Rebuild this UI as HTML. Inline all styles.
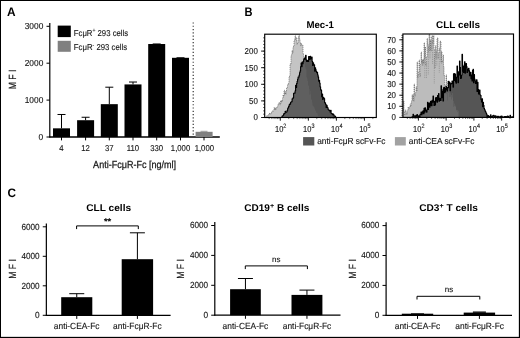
<!DOCTYPE html>
<html><head><meta charset="utf-8"><title>Figure</title>
<style>
html,body{margin:0;padding:0;background:#fff;}
body{width:520px;height:338px;overflow:hidden;}
svg{display:block;font-family:"Liberation Sans",sans-serif;will-change:transform;transform:translateZ(0);}
text{text-rendering:geometricPrecision;}
</style></head><body>
<svg width="520" height="338" viewBox="0 0 520 338">
<rect x="0.00" y="0.00" width="520.00" height="338.00" fill="#fff"/>
<rect x="0.00" y="0.00" width="520.00" height="1.00" fill="#000"/>
<rect x="0.00" y="0.00" width="1.00" height="338.00" fill="#000"/>
<rect x="518.85" y="0.00" width="1.15" height="338.00" fill="#000"/>
<rect x="0.00" y="336.85" width="520.00" height="1.15" fill="#000"/>
<text transform="translate(7.00,15.90) scale(0.9682,1)" x="0.00" y="0" font-size="12.3" font-weight="bold" fill="#000">A</text>
<line x1="49.80" y1="22.90" x2="49.80" y2="137.60" stroke="#000" stroke-width="1.2"/>
<line x1="49.30" y1="137.00" x2="219.80" y2="137.00" stroke="#000" stroke-width="1.3"/>
<line x1="46.50" y1="137.00" x2="49.80" y2="137.00" stroke="#000" stroke-width="1.0"/>
<text transform="translate(43.30,139.70) scale(0.9715,1)" x="-4.84" y="0" font-size="8.7" fill="#151515" stroke="#151515" stroke-width="0.12">0</text>
<line x1="46.50" y1="100.10" x2="49.80" y2="100.10" stroke="#000" stroke-width="1.0"/>
<text transform="translate(43.30,102.80) scale(0.9611,1)" x="-19.35" y="0" font-size="8.7" fill="#151515" stroke="#151515" stroke-width="0.12">1000</text>
<line x1="46.50" y1="63.20" x2="49.80" y2="63.20" stroke="#000" stroke-width="1.0"/>
<text transform="translate(43.30,65.90) scale(0.9611,1)" x="-19.35" y="0" font-size="8.7" fill="#151515" stroke="#151515" stroke-width="0.12">2000</text>
<line x1="46.50" y1="26.30" x2="49.80" y2="26.30" stroke="#000" stroke-width="1.0"/>
<text transform="translate(43.30,29.00) scale(0.9611,1)" x="-19.35" y="0" font-size="8.7" fill="#151515" stroke="#151515" stroke-width="0.12">3000</text>
<text transform="translate(15.50,79.50) rotate(-90) scale(0.8276,1)" x="-11.84" y="0" font-size="10.4" fill="#151515" stroke="#151515" stroke-width="0.2">M F I</text>
<rect x="53.00" y="128.33" width="17.00" height="8.67" fill="#000"/>
<line x1="61.50" y1="114.49" x2="61.50" y2="128.33" stroke="#000" stroke-width="1.0"/>
<line x1="57.50" y1="114.49" x2="65.50" y2="114.49" stroke="#000" stroke-width="1.0"/>
<line x1="61.50" y1="137.00" x2="61.50" y2="140.40" stroke="#000" stroke-width="1.0"/>
<text transform="translate(61.50,150.50) scale(0.9100,1)" x="-2.36" y="0" font-size="8.5" fill="#151515" stroke="#151515" stroke-width="0.12">4</text>
<rect x="77.10" y="120.21" width="17.00" height="16.79" fill="#000"/>
<line x1="85.60" y1="117.26" x2="85.60" y2="120.21" stroke="#000" stroke-width="1.0"/>
<line x1="81.60" y1="117.26" x2="89.60" y2="117.26" stroke="#000" stroke-width="1.0"/>
<line x1="85.60" y1="137.00" x2="85.60" y2="140.40" stroke="#000" stroke-width="1.0"/>
<text transform="translate(85.60,150.50) scale(0.9100,1)" x="-4.73" y="0" font-size="8.5" fill="#151515" stroke="#151515" stroke-width="0.12">12</text>
<rect x="100.80" y="104.16" width="17.00" height="32.84" fill="#000"/>
<line x1="109.30" y1="87.19" x2="109.30" y2="104.16" stroke="#000" stroke-width="1.0"/>
<line x1="105.30" y1="87.19" x2="113.30" y2="87.19" stroke="#000" stroke-width="1.0"/>
<line x1="109.30" y1="137.00" x2="109.30" y2="140.40" stroke="#000" stroke-width="1.0"/>
<text transform="translate(109.30,150.50) scale(0.9100,1)" x="-4.73" y="0" font-size="8.5" fill="#151515" stroke="#151515" stroke-width="0.12">37</text>
<rect x="124.50" y="84.42" width="17.00" height="52.58" fill="#000"/>
<line x1="133.00" y1="82.02" x2="133.00" y2="84.42" stroke="#000" stroke-width="1.0"/>
<line x1="129.00" y1="82.02" x2="137.00" y2="82.02" stroke="#000" stroke-width="1.0"/>
<line x1="133.00" y1="137.00" x2="133.00" y2="140.40" stroke="#000" stroke-width="1.0"/>
<text transform="translate(133.00,150.50) scale(0.9100,1)" x="-6.77" y="0" font-size="8.5" fill="#151515" stroke="#151515" stroke-width="0.12">110</text>
<rect x="148.20" y="44.01" width="17.00" height="92.99" fill="#000"/>
<rect x="152.70" y="43.46" width="8.00" height="0.80" fill="#000"/>
<line x1="156.70" y1="137.00" x2="156.70" y2="140.40" stroke="#000" stroke-width="1.0"/>
<text transform="translate(156.70,150.50) scale(0.9100,1)" x="-7.09" y="0" font-size="8.5" fill="#151515" stroke="#151515" stroke-width="0.12">330</text>
<rect x="172.00" y="57.81" width="17.00" height="79.19" fill="#000"/>
<rect x="176.50" y="57.26" width="8.00" height="0.80" fill="#000"/>
<line x1="180.50" y1="137.00" x2="180.50" y2="140.40" stroke="#000" stroke-width="1.0"/>
<text transform="translate(180.50,150.50) scale(0.9100,1)" x="-10.63" y="0" font-size="8.5" fill="#151515" stroke="#151515" stroke-width="0.12">1,000</text>
<rect x="195.60" y="131.80" width="17.00" height="5.20" fill="#808080"/>
<line x1="200.50" y1="131.30" x2="207.50" y2="131.30" stroke="#808080" stroke-width="0.8"/>
<line x1="204.00" y1="137.00" x2="204.00" y2="140.40" stroke="#000" stroke-width="1.0"/>
<text transform="translate(204.30,150.50) scale(0.9100,1)" x="-10.63" y="0" font-size="8.5" fill="#151515" stroke="#151515" stroke-width="0.12">1,000</text>
<line x1="193.2" y1="22.4" x2="193.2" y2="136.4" stroke="#222" stroke-width="1.1" stroke-dasharray="1.2 2.07"/>
<rect x="57.70" y="25.60" width="13.10" height="11.50" fill="#000"/>
<rect x="57.70" y="40.80" width="13.10" height="11.00" fill="#808080"/>
<text transform="translate(73.80,35.60) scale(0.9006,1)" x="0.00" y="0" font-size="8.6" fill="#151515" stroke="#151515" stroke-width="0.12">FcμR<tspan dy="-3.2" font-size="5.6">+</tspan><tspan dy="3.2"> 293 cells</tspan></text>
<text transform="translate(73.80,50.30) scale(0.9047,1)" x="0.00" y="0" font-size="8.6" fill="#151515" stroke="#151515" stroke-width="0.12">FcμR<tspan dy="-3.2" font-size="5.6">-</tspan><tspan dy="3.2"> 293 cells</tspan></text>
<text transform="translate(93.10,168.10) scale(0.8867,1)" x="0.00" y="0" font-size="10.2" fill="#151515" stroke="#151515" stroke-width="0.25">Anti-FcμR-Fc [ng/ml]</text>
<text transform="translate(244.60,15.90) scale(0.9006,1)" x="0.00" y="0" font-size="12.3" font-weight="bold" fill="#000">B</text>
<clipPath id="cbm"><rect x="264.7" y="34.2" width="111.60000000000002" height="83.3"/></clipPath>
<clipPath id="cdm"><path d="M281.6,117.5 L281.6,117.1 L282.1,117.1 L282.1,116.0 L282.6,116.0 L282.6,115.7 L283.1,115.7 L283.1,115.2 L283.6,115.2 L283.6,113.9 L284.1,113.9 L284.1,113.7 L284.6,113.7 L284.6,113.3 L285.1,113.3 L285.1,111.4 L285.6,111.4 L285.6,112.2 L286.1,112.2 L286.1,112.2 L286.6,112.2 L286.6,111.7 L287.1,111.7 L287.1,110.4 L287.6,110.4 L287.6,108.6 L288.1,108.6 L288.1,107.5 L288.6,107.5 L288.6,106.4 L289.1,106.4 L289.1,104.8 L289.6,104.8 L289.6,104.0 L290.1,104.0 L290.1,104.1 L290.6,104.1 L290.6,102.3 L291.1,102.3 L291.1,101.7 L291.6,101.7 L291.6,101.8 L292.1,101.8 L292.1,98.9 L292.6,98.9 L292.6,98.5 L293.1,98.5 L293.1,97.6 L293.6,97.6 L293.6,93.3 L294.1,93.3 L294.1,93.1 L294.6,93.1 L294.6,93.1 L295.1,93.1 L295.1,90.7 L295.6,90.7 L295.6,85.2 L296.1,85.2 L296.1,87.4 L296.6,87.4 L296.6,83.4 L297.1,83.4 L297.1,81.3 L297.6,81.3 L297.6,79.1 L298.1,79.1 L298.1,77.0 L298.6,77.0 L298.6,77.0 L299.1,77.0 L299.1,75.1 L299.6,75.1 L299.6,72.5 L300.1,72.5 L300.1,70.9 L300.6,70.9 L300.6,66.5 L301.1,66.5 L301.1,63.0 L301.6,63.0 L301.6,66.6 L302.1,66.6 L302.1,62.0 L302.6,62.0 L302.6,63.7 L303.1,63.7 L303.1,61.6 L303.6,61.6 L303.6,59.6 L304.1,59.6 L304.1,58.3 L304.6,58.3 L304.6,59.1 L305.1,59.1 L305.1,57.6 L305.6,57.6 L305.6,55.4 L306.1,55.4 L306.1,59.9 L306.6,59.9 L306.6,61.4 L307.1,61.4 L307.1,60.5 L307.6,60.5 L307.6,60.2 L308.1,60.2 L308.1,61.4 L308.6,61.4 L308.6,56.5 L309.1,56.5 L309.1,56.8 L309.6,56.8 L309.6,59.4 L310.1,59.4 L310.1,56.4 L310.6,56.4 L310.6,58.2 L311.1,58.2 L311.1,58.8 L311.6,58.8 L311.6,57.1 L312.1,57.1 L312.1,61.3 L312.6,61.3 L312.6,65.4 L313.1,65.4 L313.1,62.9 L313.6,62.9 L313.6,65.0 L314.1,65.0 L314.1,64.8 L314.6,64.8 L314.6,71.1 L315.1,71.1 L315.1,67.8 L315.6,67.8 L315.6,69.6 L316.1,69.6 L316.1,71.3 L316.6,71.3 L316.6,72.6 L317.1,72.6 L317.1,72.4 L317.6,72.4 L317.6,74.7 L318.1,74.7 L318.1,76.9 L318.6,76.9 L318.6,81.1 L319.1,81.1 L319.1,80.2 L319.6,80.2 L319.6,83.0 L320.1,83.0 L320.1,86.7 L320.6,86.7 L320.6,89.4 L321.1,89.4 L321.1,90.4 L321.6,90.4 L321.6,96.7 L322.1,96.7 L322.1,94.1 L322.6,94.1 L322.6,99.5 L323.1,99.5 L323.1,97.3 L323.6,97.3 L323.6,97.9 L324.1,97.9 L324.1,98.5 L324.6,98.5 L324.6,102.8 L325.1,102.8 L325.1,102.9 L325.6,102.9 L325.6,104.4 L326.1,104.4 L326.1,107.5 L326.6,107.5 L326.6,105.4 L327.1,105.4 L327.1,107.0 L327.6,107.0 L327.6,107.8 L328.1,107.8 L328.1,109.6 L328.6,109.6 L328.6,109.7 L329.1,109.7 L329.1,110.5 L329.6,110.5 L329.6,110.6 L330.1,110.6 L330.1,111.9 L330.6,111.9 L330.6,110.3 L331.1,110.3 L331.1,113.2 L331.6,113.2 L331.6,113.6 L332.1,113.6 L332.1,113.9 L332.6,113.9 L332.6,114.8 L333.1,114.8 L333.1,114.1 L333.6,114.1 L333.6,114.9 L334.1,114.9 L334.1,116.2 L334.6,116.2 L334.6,116.1 L335.1,116.1 L335.1,116.3 L335.6,116.3 L335.6,117.5 L336.1,117.5 L335.8,117.5 L335.8,117.5 L281.6,117.5 Z"/></clipPath>
<g clip-path="url(#cbm)">
<path d="M266.0,117.5 L266.0,117.1 L266.5,117.1 L266.5,116.2 L267.0,116.2 L267.0,115.5 L267.5,115.5 L267.5,115.8 L268.0,115.8 L268.0,115.8 L268.5,115.8 L268.5,114.7 L269.0,114.7 L269.0,113.9 L269.5,113.9 L269.5,113.0 L270.0,113.0 L270.0,114.2 L270.5,114.2 L270.5,114.1 L271.0,114.1 L271.0,112.4 L271.5,112.4 L271.5,112.3 L272.0,112.3 L272.0,111.0 L272.5,111.0 L272.5,110.9 L273.0,110.9 L273.0,111.2 L273.5,111.2 L273.5,110.8 L274.0,110.8 L274.0,107.5 L274.5,107.5 L274.5,109.7 L275.0,109.7 L275.0,108.0 L275.5,108.0 L275.5,109.6 L276.0,109.6 L276.0,107.8 L276.5,107.8 L276.5,107.2 L277.0,107.2 L277.0,107.2 L277.5,107.2 L277.5,106.2 L278.0,106.2 L278.0,104.0 L278.5,104.0 L278.5,103.8 L279.0,103.8 L279.0,102.5 L279.5,102.5 L279.5,102.9 L280.0,102.9 L280.0,104.8 L280.5,104.8 L280.5,100.7 L281.0,100.7 L281.0,102.9 L281.5,102.9 L281.5,100.4 L282.0,100.4 L282.0,101.5 L282.5,101.5 L282.5,98.6 L283.0,98.6 L283.0,95.0 L283.5,95.0 L283.5,96.3 L284.0,96.3 L284.0,90.2 L284.5,90.2 L284.5,94.4 L285.0,94.4 L285.0,91.8 L285.5,91.8 L285.5,94.4 L286.0,94.4 L286.0,91.0 L286.5,91.0 L286.5,87.7 L287.0,87.7 L287.0,87.6 L287.5,87.6 L287.5,85.2 L288.0,85.2 L288.0,83.7 L288.5,83.7 L288.5,83.1 L289.0,83.1 L289.0,76.8 L289.5,76.8 L289.5,75.7 L290.0,75.7 L290.0,63.9 L290.5,63.9 L290.5,64.3 L291.0,64.3 L291.0,55.8 L291.5,55.8 L291.5,54.8 L292.0,54.8 L292.0,50.5 L292.5,50.5 L292.5,53.2 L293.0,53.2 L293.0,47.0 L293.5,47.0 L293.5,46.0 L294.0,46.0 L294.0,41.0 L294.5,41.0 L294.5,39.2 L295.0,39.2 L295.0,35.7 L295.5,35.7 L295.5,39.5 L296.0,39.5 L296.0,37.6 L296.5,37.6 L296.5,41.3 L297.0,41.3 L297.0,44.5 L297.5,44.5 L297.5,43.0 L298.0,43.0 L298.0,38.1 L298.5,38.1 L298.5,36.1 L299.0,36.1 L299.0,35.6 L299.5,35.6 L299.5,38.8 L300.0,38.8 L300.0,42.3 L300.5,42.3 L300.5,45.7 L301.0,45.7 L301.0,43.5 L301.5,43.5 L301.5,45.2 L302.0,45.2 L302.0,45.0 L302.5,45.0 L302.5,45.0 L303.0,45.0 L303.0,53.6 L303.5,53.6 L303.5,56.0 L304.0,56.0 L304.0,59.5 L304.5,59.5 L304.5,62.7 L305.0,62.7 L305.0,67.1 L305.5,67.1 L305.5,68.7 L306.0,68.7 L306.0,69.4 L306.5,69.4 L306.5,77.2 L307.0,77.2 L307.0,81.0 L307.5,81.0 L307.5,78.5 L308.0,78.5 L308.0,84.8 L308.5,84.8 L308.5,85.9 L309.0,85.9 L309.0,88.7 L309.5,88.7 L309.5,94.7 L310.0,94.7 L310.0,91.0 L310.5,91.0 L310.5,94.2 L311.0,94.2 L311.0,98.7 L311.5,98.7 L311.5,99.9 L312.0,99.9 L312.0,102.6 L312.5,102.6 L312.5,105.4 L313.0,105.4 L313.0,105.9 L313.5,105.9 L313.5,106.8 L314.0,106.8 L314.0,107.3 L314.5,107.3 L314.5,108.8 L315.0,108.8 L315.0,110.4 L315.5,110.4 L315.5,110.4 L316.0,110.4 L316.0,113.0 L316.5,113.0 L316.5,112.6 L317.0,112.6 L317.0,113.1 L317.5,113.1 L317.5,114.8 L318.0,114.8 L318.0,116.2 L318.5,116.2 L318.5,116.2 L319.0,116.2 L319.0,116.2 L319.5,116.2 L319.5,116.6 L320.0,116.6 L320.0,117.5 L320.0,117.5 L266.0,117.5 Z" fill="#c4c4c4"/>
<path d="M266.0,117.5 L266.0,117.1 L266.5,117.1 L266.5,116.2 L267.0,116.2 L267.0,115.5 L267.5,115.5 L267.5,115.8 L268.0,115.8 L268.0,115.8 L268.5,115.8 L268.5,114.7 L269.0,114.7 L269.0,113.9 L269.5,113.9 L269.5,113.0 L270.0,113.0 L270.0,114.2 L270.5,114.2 L270.5,114.1 L271.0,114.1 L271.0,112.4 L271.5,112.4 L271.5,112.3 L272.0,112.3 L272.0,111.0 L272.5,111.0 L272.5,110.9 L273.0,110.9 L273.0,111.2 L273.5,111.2 L273.5,110.8 L274.0,110.8 L274.0,107.5 L274.5,107.5 L274.5,109.7 L275.0,109.7 L275.0,108.0 L275.5,108.0 L275.5,109.6 L276.0,109.6 L276.0,107.8 L276.5,107.8 L276.5,107.2 L277.0,107.2 L277.0,107.2 L277.5,107.2 L277.5,106.2 L278.0,106.2 L278.0,104.0 L278.5,104.0 L278.5,103.8 L279.0,103.8 L279.0,102.5 L279.5,102.5 L279.5,102.9 L280.0,102.9 L280.0,104.8 L280.5,104.8 L280.5,100.7 L281.0,100.7 L281.0,102.9 L281.5,102.9 L281.5,100.4 L282.0,100.4 L282.0,101.5 L282.5,101.5 L282.5,98.6 L283.0,98.6 L283.0,95.0 L283.5,95.0 L283.5,96.3 L284.0,96.3 L284.0,90.2 L284.5,90.2 L284.5,94.4 L285.0,94.4 L285.0,91.8 L285.5,91.8 L285.5,94.4 L286.0,94.4 L286.0,91.0 L286.5,91.0 L286.5,87.7 L287.0,87.7 L287.0,87.6 L287.5,87.6 L287.5,85.2 L288.0,85.2 L288.0,83.7 L288.5,83.7 L288.5,83.1 L289.0,83.1 L289.0,76.8 L289.5,76.8 L289.5,75.7 L290.0,75.7 L290.0,63.9 L290.5,63.9 L290.5,64.3 L291.0,64.3 L291.0,55.8 L291.5,55.8 L291.5,54.8 L292.0,54.8 L292.0,50.5 L292.5,50.5 L292.5,53.2 L293.0,53.2 L293.0,47.0 L293.5,47.0 L293.5,46.0 L294.0,46.0 L294.0,41.0 L294.5,41.0 L294.5,39.2 L295.0,39.2 L295.0,35.7 L295.5,35.7 L295.5,39.5 L296.0,39.5 L296.0,37.6 L296.5,37.6 L296.5,41.3 L297.0,41.3 L297.0,44.5 L297.5,44.5 L297.5,43.0 L298.0,43.0 L298.0,38.1 L298.5,38.1 L298.5,36.1 L299.0,36.1 L299.0,35.6 L299.5,35.6 L299.5,38.8 L300.0,38.8 L300.0,42.3 L300.5,42.3 L300.5,45.7 L301.0,45.7 L301.0,43.5 L301.5,43.5 L301.5,45.2 L302.0,45.2 L302.0,45.0 L302.5,45.0 L302.5,45.0 L303.0,45.0 L303.0,53.6 L303.5,53.6 L303.5,56.0 L304.0,56.0 L304.0,59.5 L304.5,59.5 L304.5,62.7 L305.0,62.7 L305.0,67.1 L305.5,67.1 L305.5,68.7 L306.0,68.7 L306.0,69.4 L306.5,69.4 L306.5,77.2 L307.0,77.2 L307.0,81.0 L307.5,81.0 L307.5,78.5 L308.0,78.5 L308.0,84.8 L308.5,84.8 L308.5,85.9 L309.0,85.9 L309.0,88.7 L309.5,88.7 L309.5,94.7 L310.0,94.7 L310.0,91.0 L310.5,91.0 L310.5,94.2 L311.0,94.2 L311.0,98.7 L311.5,98.7 L311.5,99.9 L312.0,99.9 L312.0,102.6 L312.5,102.6 L312.5,105.4 L313.0,105.4 L313.0,105.9 L313.5,105.9 L313.5,106.8 L314.0,106.8 L314.0,107.3 L314.5,107.3 L314.5,108.8 L315.0,108.8 L315.0,110.4 L315.5,110.4 L315.5,110.4 L316.0,110.4 L316.0,113.0 L316.5,113.0 L316.5,112.6 L317.0,112.6 L317.0,113.1 L317.5,113.1 L317.5,114.8 L318.0,114.8 L318.0,116.2 L318.5,116.2 L318.5,116.2 L319.0,116.2 L319.0,116.2 L319.5,116.2 L319.5,116.6 L320.0,116.6 L320.0,117.5" fill="none" stroke="#555" stroke-width="0.6" stroke-dasharray="1.1 0.8"/>
<path d="M281.6,117.5 L281.6,117.1 L282.1,117.1 L282.1,116.0 L282.6,116.0 L282.6,115.7 L283.1,115.7 L283.1,115.2 L283.6,115.2 L283.6,113.9 L284.1,113.9 L284.1,113.7 L284.6,113.7 L284.6,113.3 L285.1,113.3 L285.1,111.4 L285.6,111.4 L285.6,112.2 L286.1,112.2 L286.1,112.2 L286.6,112.2 L286.6,111.7 L287.1,111.7 L287.1,110.4 L287.6,110.4 L287.6,108.6 L288.1,108.6 L288.1,107.5 L288.6,107.5 L288.6,106.4 L289.1,106.4 L289.1,104.8 L289.6,104.8 L289.6,104.0 L290.1,104.0 L290.1,104.1 L290.6,104.1 L290.6,102.3 L291.1,102.3 L291.1,101.7 L291.6,101.7 L291.6,101.8 L292.1,101.8 L292.1,98.9 L292.6,98.9 L292.6,98.5 L293.1,98.5 L293.1,97.6 L293.6,97.6 L293.6,93.3 L294.1,93.3 L294.1,93.1 L294.6,93.1 L294.6,93.1 L295.1,93.1 L295.1,90.7 L295.6,90.7 L295.6,85.2 L296.1,85.2 L296.1,87.4 L296.6,87.4 L296.6,83.4 L297.1,83.4 L297.1,81.3 L297.6,81.3 L297.6,79.1 L298.1,79.1 L298.1,77.0 L298.6,77.0 L298.6,77.0 L299.1,77.0 L299.1,75.1 L299.6,75.1 L299.6,72.5 L300.1,72.5 L300.1,70.9 L300.6,70.9 L300.6,66.5 L301.1,66.5 L301.1,63.0 L301.6,63.0 L301.6,66.6 L302.1,66.6 L302.1,62.0 L302.6,62.0 L302.6,63.7 L303.1,63.7 L303.1,61.6 L303.6,61.6 L303.6,59.6 L304.1,59.6 L304.1,58.3 L304.6,58.3 L304.6,59.1 L305.1,59.1 L305.1,57.6 L305.6,57.6 L305.6,55.4 L306.1,55.4 L306.1,59.9 L306.6,59.9 L306.6,61.4 L307.1,61.4 L307.1,60.5 L307.6,60.5 L307.6,60.2 L308.1,60.2 L308.1,61.4 L308.6,61.4 L308.6,56.5 L309.1,56.5 L309.1,56.8 L309.6,56.8 L309.6,59.4 L310.1,59.4 L310.1,56.4 L310.6,56.4 L310.6,58.2 L311.1,58.2 L311.1,58.8 L311.6,58.8 L311.6,57.1 L312.1,57.1 L312.1,61.3 L312.6,61.3 L312.6,65.4 L313.1,65.4 L313.1,62.9 L313.6,62.9 L313.6,65.0 L314.1,65.0 L314.1,64.8 L314.6,64.8 L314.6,71.1 L315.1,71.1 L315.1,67.8 L315.6,67.8 L315.6,69.6 L316.1,69.6 L316.1,71.3 L316.6,71.3 L316.6,72.6 L317.1,72.6 L317.1,72.4 L317.6,72.4 L317.6,74.7 L318.1,74.7 L318.1,76.9 L318.6,76.9 L318.6,81.1 L319.1,81.1 L319.1,80.2 L319.6,80.2 L319.6,83.0 L320.1,83.0 L320.1,86.7 L320.6,86.7 L320.6,89.4 L321.1,89.4 L321.1,90.4 L321.6,90.4 L321.6,96.7 L322.1,96.7 L322.1,94.1 L322.6,94.1 L322.6,99.5 L323.1,99.5 L323.1,97.3 L323.6,97.3 L323.6,97.9 L324.1,97.9 L324.1,98.5 L324.6,98.5 L324.6,102.8 L325.1,102.8 L325.1,102.9 L325.6,102.9 L325.6,104.4 L326.1,104.4 L326.1,107.5 L326.6,107.5 L326.6,105.4 L327.1,105.4 L327.1,107.0 L327.6,107.0 L327.6,107.8 L328.1,107.8 L328.1,109.6 L328.6,109.6 L328.6,109.7 L329.1,109.7 L329.1,110.5 L329.6,110.5 L329.6,110.6 L330.1,110.6 L330.1,111.9 L330.6,111.9 L330.6,110.3 L331.1,110.3 L331.1,113.2 L331.6,113.2 L331.6,113.6 L332.1,113.6 L332.1,113.9 L332.6,113.9 L332.6,114.8 L333.1,114.8 L333.1,114.1 L333.6,114.1 L333.6,114.9 L334.1,114.9 L334.1,116.2 L334.6,116.2 L334.6,116.1 L335.1,116.1 L335.1,116.3 L335.6,116.3 L335.6,117.5 L336.1,117.5 L335.8,117.5 L335.8,117.5 L281.6,117.5 Z" fill="#555"/>
<g clip-path="url(#cdm)"><path d="M266.0,117.5 L266.0,117.1 L266.5,117.1 L266.5,116.2 L267.0,116.2 L267.0,115.5 L267.5,115.5 L267.5,115.8 L268.0,115.8 L268.0,115.8 L268.5,115.8 L268.5,114.7 L269.0,114.7 L269.0,113.9 L269.5,113.9 L269.5,113.0 L270.0,113.0 L270.0,114.2 L270.5,114.2 L270.5,114.1 L271.0,114.1 L271.0,112.4 L271.5,112.4 L271.5,112.3 L272.0,112.3 L272.0,111.0 L272.5,111.0 L272.5,110.9 L273.0,110.9 L273.0,111.2 L273.5,111.2 L273.5,110.8 L274.0,110.8 L274.0,107.5 L274.5,107.5 L274.5,109.7 L275.0,109.7 L275.0,108.0 L275.5,108.0 L275.5,109.6 L276.0,109.6 L276.0,107.8 L276.5,107.8 L276.5,107.2 L277.0,107.2 L277.0,107.2 L277.5,107.2 L277.5,106.2 L278.0,106.2 L278.0,104.0 L278.5,104.0 L278.5,103.8 L279.0,103.8 L279.0,102.5 L279.5,102.5 L279.5,102.9 L280.0,102.9 L280.0,104.8 L280.5,104.8 L280.5,100.7 L281.0,100.7 L281.0,102.9 L281.5,102.9 L281.5,100.4 L282.0,100.4 L282.0,101.5 L282.5,101.5 L282.5,98.6 L283.0,98.6 L283.0,95.0 L283.5,95.0 L283.5,96.3 L284.0,96.3 L284.0,90.2 L284.5,90.2 L284.5,94.4 L285.0,94.4 L285.0,91.8 L285.5,91.8 L285.5,94.4 L286.0,94.4 L286.0,91.0 L286.5,91.0 L286.5,87.7 L287.0,87.7 L287.0,87.6 L287.5,87.6 L287.5,85.2 L288.0,85.2 L288.0,83.7 L288.5,83.7 L288.5,83.1 L289.0,83.1 L289.0,76.8 L289.5,76.8 L289.5,75.7 L290.0,75.7 L290.0,63.9 L290.5,63.9 L290.5,64.3 L291.0,64.3 L291.0,55.8 L291.5,55.8 L291.5,54.8 L292.0,54.8 L292.0,50.5 L292.5,50.5 L292.5,53.2 L293.0,53.2 L293.0,47.0 L293.5,47.0 L293.5,46.0 L294.0,46.0 L294.0,41.0 L294.5,41.0 L294.5,39.2 L295.0,39.2 L295.0,35.7 L295.5,35.7 L295.5,39.5 L296.0,39.5 L296.0,37.6 L296.5,37.6 L296.5,41.3 L297.0,41.3 L297.0,44.5 L297.5,44.5 L297.5,43.0 L298.0,43.0 L298.0,38.1 L298.5,38.1 L298.5,36.1 L299.0,36.1 L299.0,35.6 L299.5,35.6 L299.5,38.8 L300.0,38.8 L300.0,42.3 L300.5,42.3 L300.5,45.7 L301.0,45.7 L301.0,43.5 L301.5,43.5 L301.5,45.2 L302.0,45.2 L302.0,45.0 L302.5,45.0 L302.5,45.0 L303.0,45.0 L303.0,53.6 L303.5,53.6 L303.5,56.0 L304.0,56.0 L304.0,59.5 L304.5,59.5 L304.5,62.7 L305.0,62.7 L305.0,67.1 L305.5,67.1 L305.5,68.7 L306.0,68.7 L306.0,69.4 L306.5,69.4 L306.5,77.2 L307.0,77.2 L307.0,81.0 L307.5,81.0 L307.5,78.5 L308.0,78.5 L308.0,84.8 L308.5,84.8 L308.5,85.9 L309.0,85.9 L309.0,88.7 L309.5,88.7 L309.5,94.7 L310.0,94.7 L310.0,91.0 L310.5,91.0 L310.5,94.2 L311.0,94.2 L311.0,98.7 L311.5,98.7 L311.5,99.9 L312.0,99.9 L312.0,102.6 L312.5,102.6 L312.5,105.4 L313.0,105.4 L313.0,105.9 L313.5,105.9 L313.5,106.8 L314.0,106.8 L314.0,107.3 L314.5,107.3 L314.5,108.8 L315.0,108.8 L315.0,110.4 L315.5,110.4 L315.5,110.4 L316.0,110.4 L316.0,113.0 L316.5,113.0 L316.5,112.6 L317.0,112.6 L317.0,113.1 L317.5,113.1 L317.5,114.8 L318.0,114.8 L318.0,116.2 L318.5,116.2 L318.5,116.2 L319.0,116.2 L319.0,116.2 L319.5,116.2 L319.5,116.6 L320.0,116.6 L320.0,117.5 L320.0,117.5 L266.0,117.5 Z" fill="#ffffff" fill-opacity="0.06"/></g>
<path d="M281.6,117.5 L281.6,117.1 L282.1,117.1 L282.1,116.0 L282.6,116.0 L282.6,115.7 L283.1,115.7 L283.1,115.2 L283.6,115.2 L283.6,113.9 L284.1,113.9 L284.1,113.7 L284.6,113.7 L284.6,113.3 L285.1,113.3 L285.1,111.4 L285.6,111.4 L285.6,112.2 L286.1,112.2 L286.1,112.2 L286.6,112.2 L286.6,111.7 L287.1,111.7 L287.1,110.4 L287.6,110.4 L287.6,108.6 L288.1,108.6 L288.1,107.5 L288.6,107.5 L288.6,106.4 L289.1,106.4 L289.1,104.8 L289.6,104.8 L289.6,104.0 L290.1,104.0 L290.1,104.1 L290.6,104.1 L290.6,102.3 L291.1,102.3 L291.1,101.7 L291.6,101.7 L291.6,101.8 L292.1,101.8 L292.1,98.9 L292.6,98.9 L292.6,98.5 L293.1,98.5 L293.1,97.6 L293.6,97.6 L293.6,93.3 L294.1,93.3 L294.1,93.1 L294.6,93.1 L294.6,93.1 L295.1,93.1 L295.1,90.7 L295.6,90.7 L295.6,85.2 L296.1,85.2 L296.1,87.4 L296.6,87.4 L296.6,83.4 L297.1,83.4 L297.1,81.3 L297.6,81.3 L297.6,79.1 L298.1,79.1 L298.1,77.0 L298.6,77.0 L298.6,77.0 L299.1,77.0 L299.1,75.1 L299.6,75.1 L299.6,72.5 L300.1,72.5 L300.1,70.9 L300.6,70.9 L300.6,66.5 L301.1,66.5 L301.1,63.0 L301.6,63.0 L301.6,66.6 L302.1,66.6 L302.1,62.0 L302.6,62.0 L302.6,63.7 L303.1,63.7 L303.1,61.6 L303.6,61.6 L303.6,59.6 L304.1,59.6 L304.1,58.3 L304.6,58.3 L304.6,59.1 L305.1,59.1 L305.1,57.6 L305.6,57.6 L305.6,55.4 L306.1,55.4 L306.1,59.9 L306.6,59.9 L306.6,61.4 L307.1,61.4 L307.1,60.5 L307.6,60.5 L307.6,60.2 L308.1,60.2 L308.1,61.4 L308.6,61.4 L308.6,56.5 L309.1,56.5 L309.1,56.8 L309.6,56.8 L309.6,59.4 L310.1,59.4 L310.1,56.4 L310.6,56.4 L310.6,58.2 L311.1,58.2 L311.1,58.8 L311.6,58.8 L311.6,57.1 L312.1,57.1 L312.1,61.3 L312.6,61.3 L312.6,65.4 L313.1,65.4 L313.1,62.9 L313.6,62.9 L313.6,65.0 L314.1,65.0 L314.1,64.8 L314.6,64.8 L314.6,71.1 L315.1,71.1 L315.1,67.8 L315.6,67.8 L315.6,69.6 L316.1,69.6 L316.1,71.3 L316.6,71.3 L316.6,72.6 L317.1,72.6 L317.1,72.4 L317.6,72.4 L317.6,74.7 L318.1,74.7 L318.1,76.9 L318.6,76.9 L318.6,81.1 L319.1,81.1 L319.1,80.2 L319.6,80.2 L319.6,83.0 L320.1,83.0 L320.1,86.7 L320.6,86.7 L320.6,89.4 L321.1,89.4 L321.1,90.4 L321.6,90.4 L321.6,96.7 L322.1,96.7 L322.1,94.1 L322.6,94.1 L322.6,99.5 L323.1,99.5 L323.1,97.3 L323.6,97.3 L323.6,97.9 L324.1,97.9 L324.1,98.5 L324.6,98.5 L324.6,102.8 L325.1,102.8 L325.1,102.9 L325.6,102.9 L325.6,104.4 L326.1,104.4 L326.1,107.5 L326.6,107.5 L326.6,105.4 L327.1,105.4 L327.1,107.0 L327.6,107.0 L327.6,107.8 L328.1,107.8 L328.1,109.6 L328.6,109.6 L328.6,109.7 L329.1,109.7 L329.1,110.5 L329.6,110.5 L329.6,110.6 L330.1,110.6 L330.1,111.9 L330.6,111.9 L330.6,110.3 L331.1,110.3 L331.1,113.2 L331.6,113.2 L331.6,113.6 L332.1,113.6 L332.1,113.9 L332.6,113.9 L332.6,114.8 L333.1,114.8 L333.1,114.1 L333.6,114.1 L333.6,114.9 L334.1,114.9 L334.1,116.2 L334.6,116.2 L334.6,116.1 L335.1,116.1 L335.1,116.3 L335.6,116.3 L335.6,117.5 L336.1,117.5 L335.8,117.5" fill="none" stroke="#000" stroke-width="1.1" stroke-linejoin="round"/>
</g>
<rect x="264.7" y="34.2" width="111.60000000000002" height="83.3" fill="none" stroke="#000" stroke-width="1.15"/>
<line x1="261.10" y1="117.50" x2="264.70" y2="117.50" stroke="#000" stroke-width="0.9"/>
<text transform="translate(257.80,120.30) scale(0.9200,1)" x="-4.78" y="0" font-size="8.6" fill="#151515" stroke="#151515" stroke-width="0.12">0</text>
<line x1="261.10" y1="100.90" x2="264.70" y2="100.90" stroke="#000" stroke-width="0.9"/>
<text transform="translate(257.80,103.70) scale(0.9200,1)" x="-9.56" y="0" font-size="8.6" fill="#151515" stroke="#151515" stroke-width="0.12">50</text>
<line x1="261.10" y1="84.30" x2="264.70" y2="84.30" stroke="#000" stroke-width="0.9"/>
<text transform="translate(257.80,87.10) scale(0.9200,1)" x="-14.35" y="0" font-size="8.6" fill="#151515" stroke="#151515" stroke-width="0.12">100</text>
<line x1="261.10" y1="67.70" x2="264.70" y2="67.70" stroke="#000" stroke-width="0.9"/>
<text transform="translate(257.80,70.50) scale(0.9200,1)" x="-14.35" y="0" font-size="8.6" fill="#151515" stroke="#151515" stroke-width="0.12">150</text>
<line x1="261.10" y1="51.10" x2="264.70" y2="51.10" stroke="#000" stroke-width="0.9"/>
<text transform="translate(257.80,53.90) scale(0.9200,1)" x="-14.35" y="0" font-size="8.6" fill="#151515" stroke="#151515" stroke-width="0.12">200</text>
<line x1="263.20" y1="117.50" x2="264.70" y2="117.50" stroke="#000" stroke-width="0.7"/>
<line x1="263.20" y1="114.18" x2="264.70" y2="114.18" stroke="#000" stroke-width="0.7"/>
<line x1="263.20" y1="110.86" x2="264.70" y2="110.86" stroke="#000" stroke-width="0.7"/>
<line x1="263.20" y1="107.54" x2="264.70" y2="107.54" stroke="#000" stroke-width="0.7"/>
<line x1="263.20" y1="104.22" x2="264.70" y2="104.22" stroke="#000" stroke-width="0.7"/>
<line x1="263.20" y1="100.90" x2="264.70" y2="100.90" stroke="#000" stroke-width="0.7"/>
<line x1="263.20" y1="97.58" x2="264.70" y2="97.58" stroke="#000" stroke-width="0.7"/>
<line x1="263.20" y1="94.26" x2="264.70" y2="94.26" stroke="#000" stroke-width="0.7"/>
<line x1="263.20" y1="90.94" x2="264.70" y2="90.94" stroke="#000" stroke-width="0.7"/>
<line x1="263.20" y1="87.62" x2="264.70" y2="87.62" stroke="#000" stroke-width="0.7"/>
<line x1="263.20" y1="84.30" x2="264.70" y2="84.30" stroke="#000" stroke-width="0.7"/>
<line x1="263.20" y1="80.98" x2="264.70" y2="80.98" stroke="#000" stroke-width="0.7"/>
<line x1="263.20" y1="77.66" x2="264.70" y2="77.66" stroke="#000" stroke-width="0.7"/>
<line x1="263.20" y1="74.34" x2="264.70" y2="74.34" stroke="#000" stroke-width="0.7"/>
<line x1="263.20" y1="71.02" x2="264.70" y2="71.02" stroke="#000" stroke-width="0.7"/>
<line x1="263.20" y1="67.70" x2="264.70" y2="67.70" stroke="#000" stroke-width="0.7"/>
<line x1="263.20" y1="64.38" x2="264.70" y2="64.38" stroke="#000" stroke-width="0.7"/>
<line x1="263.20" y1="61.06" x2="264.70" y2="61.06" stroke="#000" stroke-width="0.7"/>
<line x1="263.20" y1="57.74" x2="264.70" y2="57.74" stroke="#000" stroke-width="0.7"/>
<line x1="263.20" y1="54.42" x2="264.70" y2="54.42" stroke="#000" stroke-width="0.7"/>
<line x1="263.20" y1="51.10" x2="264.70" y2="51.10" stroke="#000" stroke-width="0.7"/>
<line x1="263.20" y1="47.78" x2="264.70" y2="47.78" stroke="#000" stroke-width="0.7"/>
<line x1="263.20" y1="44.46" x2="264.70" y2="44.46" stroke="#000" stroke-width="0.7"/>
<line x1="263.20" y1="41.14" x2="264.70" y2="41.14" stroke="#000" stroke-width="0.7"/>
<line x1="263.20" y1="37.82" x2="264.70" y2="37.82" stroke="#000" stroke-width="0.7"/>
<line x1="280.30" y1="117.50" x2="280.30" y2="120.70" stroke="#000" stroke-width="0.9"/>
<text transform="translate(275.00,131.60) scale(0.8712,1)" x="0.00" y="0" font-size="8.6" fill="#151515" stroke="#151515" stroke-width="0.12">10<tspan dy="-3.3" font-size="6.3">2</tspan><tspan dy="3.3"></tspan></text>
<line x1="308.35" y1="117.50" x2="308.35" y2="120.70" stroke="#000" stroke-width="0.9"/>
<text transform="translate(303.05,131.60) scale(0.8712,1)" x="0.00" y="0" font-size="8.6" fill="#151515" stroke="#151515" stroke-width="0.12">10<tspan dy="-3.3" font-size="6.3">3</tspan><tspan dy="3.3"></tspan></text>
<line x1="336.40" y1="117.50" x2="336.40" y2="120.70" stroke="#000" stroke-width="0.9"/>
<text transform="translate(331.10,131.60) scale(0.8712,1)" x="0.00" y="0" font-size="8.6" fill="#151515" stroke="#151515" stroke-width="0.12">10<tspan dy="-3.3" font-size="6.3">4</tspan><tspan dy="3.3"></tspan></text>
<line x1="364.45" y1="117.50" x2="364.45" y2="120.70" stroke="#000" stroke-width="0.9"/>
<text transform="translate(359.15,131.60) scale(0.8712,1)" x="0.00" y="0" font-size="8.6" fill="#151515" stroke="#151515" stroke-width="0.12">10<tspan dy="-3.3" font-size="6.3">5</tspan><tspan dy="3.3"></tspan></text>
<line x1="269.14" y1="117.50" x2="269.14" y2="119.10" stroke="#000" stroke-width="0.55"/>
<line x1="271.86" y1="117.50" x2="271.86" y2="119.10" stroke="#000" stroke-width="0.55"/>
<line x1="274.08" y1="117.50" x2="274.08" y2="119.10" stroke="#000" stroke-width="0.55"/>
<line x1="275.96" y1="117.50" x2="275.96" y2="119.10" stroke="#000" stroke-width="0.55"/>
<line x1="277.58" y1="117.50" x2="277.58" y2="119.10" stroke="#000" stroke-width="0.55"/>
<line x1="279.02" y1="117.50" x2="279.02" y2="119.10" stroke="#000" stroke-width="0.55"/>
<line x1="288.74" y1="117.50" x2="288.74" y2="119.10" stroke="#000" stroke-width="0.55"/>
<line x1="293.68" y1="117.50" x2="293.68" y2="119.10" stroke="#000" stroke-width="0.55"/>
<line x1="297.19" y1="117.50" x2="297.19" y2="119.10" stroke="#000" stroke-width="0.55"/>
<line x1="299.91" y1="117.50" x2="299.91" y2="119.10" stroke="#000" stroke-width="0.55"/>
<line x1="302.13" y1="117.50" x2="302.13" y2="119.10" stroke="#000" stroke-width="0.55"/>
<line x1="304.01" y1="117.50" x2="304.01" y2="119.10" stroke="#000" stroke-width="0.55"/>
<line x1="305.63" y1="117.50" x2="305.63" y2="119.10" stroke="#000" stroke-width="0.55"/>
<line x1="307.07" y1="117.50" x2="307.07" y2="119.10" stroke="#000" stroke-width="0.55"/>
<line x1="316.79" y1="117.50" x2="316.79" y2="119.10" stroke="#000" stroke-width="0.55"/>
<line x1="321.73" y1="117.50" x2="321.73" y2="119.10" stroke="#000" stroke-width="0.55"/>
<line x1="325.24" y1="117.50" x2="325.24" y2="119.10" stroke="#000" stroke-width="0.55"/>
<line x1="327.96" y1="117.50" x2="327.96" y2="119.10" stroke="#000" stroke-width="0.55"/>
<line x1="330.18" y1="117.50" x2="330.18" y2="119.10" stroke="#000" stroke-width="0.55"/>
<line x1="332.06" y1="117.50" x2="332.06" y2="119.10" stroke="#000" stroke-width="0.55"/>
<line x1="333.68" y1="117.50" x2="333.68" y2="119.10" stroke="#000" stroke-width="0.55"/>
<line x1="335.12" y1="117.50" x2="335.12" y2="119.10" stroke="#000" stroke-width="0.55"/>
<line x1="344.84" y1="117.50" x2="344.84" y2="119.10" stroke="#000" stroke-width="0.55"/>
<line x1="349.78" y1="117.50" x2="349.78" y2="119.10" stroke="#000" stroke-width="0.55"/>
<line x1="353.29" y1="117.50" x2="353.29" y2="119.10" stroke="#000" stroke-width="0.55"/>
<line x1="356.01" y1="117.50" x2="356.01" y2="119.10" stroke="#000" stroke-width="0.55"/>
<line x1="358.23" y1="117.50" x2="358.23" y2="119.10" stroke="#000" stroke-width="0.55"/>
<line x1="360.11" y1="117.50" x2="360.11" y2="119.10" stroke="#000" stroke-width="0.55"/>
<line x1="361.73" y1="117.50" x2="361.73" y2="119.10" stroke="#000" stroke-width="0.55"/>
<line x1="363.17" y1="117.50" x2="363.17" y2="119.10" stroke="#000" stroke-width="0.55"/>
<line x1="372.89" y1="117.50" x2="372.89" y2="119.10" stroke="#000" stroke-width="0.55"/>
<text transform="translate(320.10,27.80) scale(0.9865,1)" x="-13.89" y="0" font-size="9.8" font-weight="bold" fill="#000">Mec-1</text>
<clipPath id="cbc"><rect x="402.9" y="34.0" width="110.60000000000002" height="83.4"/></clipPath>
<clipPath id="cdc"><path d="M412.0,117.4 L412.0,116.7 L412.5,116.7 L412.5,116.9 L413.0,116.9 L413.0,114.3 L413.5,114.3 L413.5,116.2 L414.0,116.2 L414.0,116.3 L414.5,116.3 L414.5,115.9 L415.0,115.9 L415.0,116.7 L415.5,116.7 L415.5,116.7 L416.0,116.7 L416.0,115.4 L416.5,115.4 L416.5,116.2 L417.0,116.2 L417.0,114.6 L417.5,114.6 L417.5,115.6 L418.0,115.6 L418.0,117.4 L418.5,117.4 L418.5,116.7 L419.0,116.7 L419.0,115.9 L419.5,115.9 L419.5,117.4 L420.0,117.4 L420.0,114.4 L420.5,114.4 L420.5,114.4 L421.0,114.4 L421.0,112.1 L421.5,112.1 L421.5,114.7 L422.0,114.7 L422.0,113.3 L422.5,113.3 L422.5,111.5 L423.0,111.5 L423.0,110.8 L423.5,110.8 L423.5,113.8 L424.0,113.8 L424.0,108.4 L424.5,108.4 L424.5,112.3 L425.0,112.3 L425.0,107.9 L425.5,107.9 L425.5,110.7 L426.0,110.7 L426.0,110.6 L426.5,110.6 L426.5,112.1 L427.0,112.1 L427.0,109.0 L427.5,109.0 L427.5,102.2 L428.0,102.2 L428.0,109.4 L428.5,109.4 L428.5,103.2 L429.0,103.2 L429.0,103.2 L429.5,103.2 L429.5,107.3 L430.0,107.3 L430.0,102.6 L430.5,102.6 L430.5,101.2 L431.0,101.2 L431.0,105.6 L431.5,105.6 L431.5,105.8 L432.0,105.8 L432.0,100.3 L432.5,100.3 L432.5,102.1 L433.0,102.1 L433.0,96.0 L433.5,96.0 L433.5,100.8 L434.0,100.8 L434.0,105.5 L434.5,105.5 L434.5,101.5 L435.0,101.5 L435.0,104.9 L435.5,104.9 L435.5,97.9 L436.0,97.9 L436.0,97.6 L436.5,97.6 L436.5,101.0 L437.0,101.0 L437.0,102.3 L437.5,102.3 L437.5,95.5 L438.0,95.5 L438.0,99.7 L438.5,99.7 L438.5,93.5 L439.0,93.5 L439.0,101.2 L439.5,101.2 L439.5,98.3 L440.0,98.3 L440.0,98.9 L440.5,98.9 L440.5,100.5 L441.0,100.5 L441.0,85.8 L441.5,85.8 L441.5,89.3 L442.0,89.3 L442.0,97.8 L442.5,97.8 L442.5,91.4 L443.0,91.4 L443.0,101.0 L443.5,101.0 L443.5,87.7 L444.0,87.7 L444.0,87.4 L444.5,87.4 L444.5,92.6 L445.0,92.6 L445.0,91.8 L445.5,91.8 L445.5,88.3 L446.0,88.3 L446.0,86.6 L446.5,86.6 L446.5,89.5 L447.0,89.5 L447.0,91.0 L447.5,91.0 L447.5,87.6 L448.0,87.6 L448.0,87.7 L448.5,87.7 L448.5,81.2 L449.0,81.2 L449.0,83.7 L449.5,83.7 L449.5,82.3 L450.0,82.3 L450.0,90.8 L450.5,90.8 L450.5,84.0 L451.0,84.0 L451.0,83.5 L451.5,83.5 L451.5,83.6 L452.0,83.6 L452.0,81.0 L452.5,81.0 L452.5,81.4 L453.0,81.4 L453.0,87.1 L453.5,87.1 L453.5,73.9 L454.0,73.9 L454.0,73.5 L454.5,73.5 L454.5,80.5 L455.0,80.5 L455.0,74.1 L455.5,74.1 L455.5,81.8 L456.0,81.8 L456.0,83.1 L456.5,83.1 L456.5,77.1 L457.0,77.1 L457.0,66.0 L457.5,66.0 L457.5,75.7 L458.0,75.7 L458.0,82.6 L458.5,82.6 L458.5,71.7 L459.0,71.7 L459.0,75.0 L459.5,75.0 L459.5,61.0 L460.0,61.0 L460.0,67.3 L460.5,67.3 L460.5,78.5 L461.0,78.5 L461.0,77.9 L461.5,77.9 L461.5,75.0 L462.0,75.0 L462.0,54.4 L462.5,54.4 L462.5,66.4 L463.0,66.4 L463.0,71.2 L463.5,71.2 L463.5,72.4 L464.0,72.4 L464.0,65.1 L464.5,65.1 L464.5,61.8 L465.0,61.8 L465.0,73.3 L465.5,73.3 L465.5,67.7 L466.0,67.7 L466.0,63.5 L466.5,63.5 L466.5,66.6 L467.0,66.6 L467.0,72.4 L467.5,72.4 L467.5,69.1 L468.0,69.1 L468.0,70.9 L468.5,70.9 L468.5,68.3 L469.0,68.3 L469.0,70.5 L469.5,70.5 L469.5,75.7 L470.0,75.7 L470.0,74.2 L470.5,74.2 L470.5,72.2 L471.0,72.2 L471.0,78.6 L471.5,78.6 L471.5,75.1 L472.0,75.1 L472.0,81.0 L472.5,81.0 L472.5,70.3 L473.0,70.3 L473.0,69.4 L473.5,69.4 L473.5,82.7 L474.0,82.7 L474.0,74.5 L474.5,74.5 L474.5,79.1 L475.0,79.1 L475.0,80.7 L475.5,80.7 L475.5,83.5 L476.0,83.5 L476.0,82.2 L476.5,82.2 L476.5,79.8 L477.0,79.8 L477.0,91.4 L477.5,91.4 L477.5,82.3 L478.0,82.3 L478.0,89.2 L478.5,89.2 L478.5,94.0 L479.0,94.0 L479.0,90.9 L479.5,90.9 L479.5,90.0 L480.0,90.0 L480.0,94.8 L480.5,94.8 L480.5,95.2 L481.0,95.2 L481.0,99.5 L481.5,99.5 L481.5,102.0 L482.0,102.0 L482.0,98.8 L482.5,98.8 L482.5,106.6 L483.0,106.6 L483.0,102.2 L483.5,102.2 L483.5,105.4 L484.0,105.4 L484.0,108.4 L484.5,108.4 L484.5,109.5 L485.0,109.5 L485.0,110.9 L485.5,110.9 L485.5,111.7 L486.0,111.7 L486.0,113.0 L486.5,113.0 L486.5,114.1 L487.0,114.1 L487.0,117.3 L487.5,117.3 L487.5,117.4 L488.0,117.4 L488.0,115.6 L488.5,115.6 L488.5,116.6 L489.0,116.6 L489.0,116.6 L489.5,116.6 L489.5,116.3 L490.0,116.3 L490.0,117.2 L490.5,117.2 L490.5,114.9 L491.0,114.9 L491.0,116.3 L491.5,116.3 L491.5,116.5 L492.0,116.5 L492.0,117.2 L492.5,117.2 L492.5,115.7 L493.0,115.7 L493.0,115.9 L493.5,115.9 L493.5,115.4 L494.0,115.4 L494.0,115.9 L494.5,115.9 L494.5,117.2 L495.0,117.2 L495.0,117.4 L495.5,117.4 L495.5,115.7 L496.0,115.7 L496.0,117.1 L496.5,117.1 L496.5,116.7 L497.0,116.7 L497.0,116.8 L497.5,116.8 L497.5,116.3 L498.0,116.3 L498.0,116.3 L498.5,116.3 L498.5,117.4 L499.0,117.4 L499.0,117.1 L499.5,117.1 L499.5,117.4 L500.0,117.4 L500.0,116.3 L500.5,116.3 L500.5,116.8 L501.0,116.8 L501.0,117.4 L501.5,117.4 L501.5,116.0 L502.0,116.0 L502.0,116.7 L502.5,116.7 L502.5,117.4 L503.0,117.4 L503.0,117.0 L503.5,117.0 L503.5,117.1 L504.0,117.1 L504.0,116.7 L504.5,116.7 L504.5,116.6 L505.0,116.6 L505.0,117.1 L505.5,117.1 L505.5,116.5 L506.0,116.5 L506.0,117.4 L506.5,117.4 L506.5,117.0 L507.0,117.0 L507.0,116.3 L507.5,116.3 L507.5,116.1 L508.0,116.1 L508.0,116.2 L508.5,116.2 L508.5,117.4 L509.0,117.4 L509.0,117.4 L509.5,117.4 L509.5,117.0 L510.0,117.0 L510.0,115.4 L510.5,115.4 L510.5,116.7 L511.0,116.7 L511.0,117.3 L511.5,117.3 L511.5,117.4 L512.0,117.4 L512.0,116.8 L512.5,116.8 L512.5,117.2 L513.0,117.2 L513.0,117.4 L513.0,117.4 L412.0,117.4 Z"/></clipPath>
<g clip-path="url(#cbc)">
<path d="M403.0,117.4 L403.0,109.9 L403.5,109.9 L403.5,101.1 L404.0,101.1 L404.0,111.3 L404.5,111.3 L404.5,115.1 L405.0,115.1 L405.0,112.9 L405.5,112.9 L405.5,109.9 L406.0,109.9 L406.0,111.9 L406.5,111.9 L406.5,114.5 L407.0,114.5 L407.0,113.1 L407.5,113.1 L407.5,110.6 L408.0,110.6 L408.0,107.1 L408.5,107.1 L408.5,108.4 L409.0,108.4 L409.0,108.4 L409.5,108.4 L409.5,107.0 L410.0,107.0 L410.0,104.7 L410.5,104.7 L410.5,106.4 L411.0,106.4 L411.0,102.9 L411.5,102.9 L411.5,100.9 L412.0,100.9 L412.0,94.8 L412.5,94.8 L412.5,99.7 L413.0,99.7 L413.0,94.7 L413.5,94.7 L413.5,101.3 L414.0,101.3 L414.0,84.0 L414.5,84.0 L414.5,94.3 L415.0,94.3 L415.0,95.9 L415.5,95.9 L415.5,92.4 L416.0,92.4 L416.0,86.8 L416.5,86.8 L416.5,91.0 L417.0,91.0 L417.0,62.0 L417.5,62.0 L417.5,77.9 L418.0,77.9 L418.0,74.8 L418.5,74.8 L418.5,72.3 L419.0,72.3 L419.0,60.0 L419.5,60.0 L419.5,73.7 L420.0,73.7 L420.0,76.7 L420.5,76.7 L420.5,64.0 L421.0,64.0 L421.0,52.0 L421.5,52.0 L421.5,62.9 L422.0,62.9 L422.0,59.9 L422.5,59.9 L422.5,65.3 L423.0,65.3 L423.0,59.3 L423.5,59.3 L423.5,63.3 L424.0,63.3 L424.0,42.8 L424.5,42.8 L424.5,58.6 L425.0,58.6 L425.0,47.0 L425.5,47.0 L425.5,65.5 L426.0,65.5 L426.0,62.5 L426.5,62.5 L426.5,56.9 L427.0,56.9 L427.0,38.5 L427.5,38.5 L427.5,43.2 L428.0,43.2 L428.0,45.8 L428.5,45.8 L428.5,51.6 L429.0,51.6 L429.0,32.1 L429.5,32.1 L429.5,35.5 L430.0,35.5 L430.0,50.7 L430.5,50.7 L430.5,40.1 L431.0,40.1 L431.0,50.7 L431.5,50.7 L431.5,37.0 L432.0,37.0 L432.0,35.6 L432.5,35.6 L432.5,43.7 L433.0,43.7 L433.0,40.4 L433.5,40.4 L433.5,35.6 L434.0,35.6 L434.0,49.2 L434.5,49.2 L434.5,68.4 L435.0,68.4 L435.0,54.2 L435.5,54.2 L435.5,45.7 L436.0,45.7 L436.0,58.3 L436.5,58.3 L436.5,50.8 L437.0,50.8 L437.0,39.0 L437.5,39.0 L437.5,37.8 L438.0,37.8 L438.0,58.5 L438.5,58.5 L438.5,53.5 L439.0,53.5 L439.0,49.1 L439.5,49.1 L439.5,48.1 L440.0,48.1 L440.0,41.0 L440.5,41.0 L440.5,41.4 L441.0,41.4 L441.0,62.2 L441.5,62.2 L441.5,51.5 L442.0,51.5 L442.0,62.4 L442.5,62.4 L442.5,60.7 L443.0,60.7 L443.0,55.0 L443.5,55.0 L443.5,66.4 L444.0,66.4 L444.0,75.3 L444.5,75.3 L444.5,85.7 L445.0,85.7 L445.0,85.3 L445.5,85.3 L445.5,90.8 L446.0,90.8 L446.0,74.9 L446.5,74.9 L446.5,94.2 L447.0,94.2 L447.0,100.4 L447.5,100.4 L447.5,81.6 L448.0,81.6 L448.0,84.4 L448.5,84.4 L448.5,92.9 L449.0,92.9 L449.0,88.6 L449.5,88.6 L449.5,96.9 L450.0,96.9 L450.0,96.8 L450.5,96.8 L450.5,93.3 L451.0,93.3 L451.0,94.9 L451.5,94.9 L451.5,99.5 L452.0,99.5 L452.0,92.9 L452.5,92.9 L452.5,97.6 L453.0,97.6 L453.0,101.0 L453.5,101.0 L453.5,106.7 L454.0,106.7 L454.0,103.6 L454.5,103.6 L454.5,106.2 L455.0,106.2 L455.0,106.8 L455.5,106.8 L455.5,105.6 L456.0,105.6 L456.0,110.6 L456.5,110.6 L456.5,109.8 L457.0,109.8 L457.0,110.0 L457.5,110.0 L457.5,112.3 L458.0,112.3 L458.0,110.7 L458.5,110.7 L458.5,117.4 L459.0,117.4 L459.0,116.9 L459.5,116.9 L459.3,117.4 L459.3,117.4 L403.0,117.4 Z" fill="#bcbcbc"/>
<path d="M403.0,117.4 L403.0,109.9 L403.5,109.9 L403.5,101.1 L404.0,101.1 L404.0,111.3 L404.5,111.3 L404.5,115.1 L405.0,115.1 L405.0,112.9 L405.5,112.9 L405.5,109.9 L406.0,109.9 L406.0,111.9 L406.5,111.9 L406.5,114.5 L407.0,114.5 L407.0,113.1 L407.5,113.1 L407.5,110.6 L408.0,110.6 L408.0,107.1 L408.5,107.1 L408.5,108.4 L409.0,108.4 L409.0,108.4 L409.5,108.4 L409.5,107.0 L410.0,107.0 L410.0,104.7 L410.5,104.7 L410.5,106.4 L411.0,106.4 L411.0,102.9 L411.5,102.9 L411.5,100.9 L412.0,100.9 L412.0,94.8 L412.5,94.8 L412.5,99.7 L413.0,99.7 L413.0,94.7 L413.5,94.7 L413.5,101.3 L414.0,101.3 L414.0,84.0 L414.5,84.0 L414.5,94.3 L415.0,94.3 L415.0,95.9 L415.5,95.9 L415.5,92.4 L416.0,92.4 L416.0,86.8 L416.5,86.8 L416.5,91.0 L417.0,91.0 L417.0,62.0 L417.5,62.0 L417.5,77.9 L418.0,77.9 L418.0,74.8 L418.5,74.8 L418.5,72.3 L419.0,72.3 L419.0,60.0 L419.5,60.0 L419.5,73.7 L420.0,73.7 L420.0,76.7 L420.5,76.7 L420.5,64.0 L421.0,64.0 L421.0,52.0 L421.5,52.0 L421.5,62.9 L422.0,62.9 L422.0,59.9 L422.5,59.9 L422.5,65.3 L423.0,65.3 L423.0,59.3 L423.5,59.3 L423.5,63.3 L424.0,63.3 L424.0,42.8 L424.5,42.8 L424.5,58.6 L425.0,58.6 L425.0,47.0 L425.5,47.0 L425.5,65.5 L426.0,65.5 L426.0,62.5 L426.5,62.5 L426.5,56.9 L427.0,56.9 L427.0,38.5 L427.5,38.5 L427.5,43.2 L428.0,43.2 L428.0,45.8 L428.5,45.8 L428.5,51.6 L429.0,51.6 L429.0,32.1 L429.5,32.1 L429.5,35.5 L430.0,35.5 L430.0,50.7 L430.5,50.7 L430.5,40.1 L431.0,40.1 L431.0,50.7 L431.5,50.7 L431.5,37.0 L432.0,37.0 L432.0,35.6 L432.5,35.6 L432.5,43.7 L433.0,43.7 L433.0,40.4 L433.5,40.4 L433.5,35.6 L434.0,35.6 L434.0,49.2 L434.5,49.2 L434.5,68.4 L435.0,68.4 L435.0,54.2 L435.5,54.2 L435.5,45.7 L436.0,45.7 L436.0,58.3 L436.5,58.3 L436.5,50.8 L437.0,50.8 L437.0,39.0 L437.5,39.0 L437.5,37.8 L438.0,37.8 L438.0,58.5 L438.5,58.5 L438.5,53.5 L439.0,53.5 L439.0,49.1 L439.5,49.1 L439.5,48.1 L440.0,48.1 L440.0,41.0 L440.5,41.0 L440.5,41.4 L441.0,41.4 L441.0,62.2 L441.5,62.2 L441.5,51.5 L442.0,51.5 L442.0,62.4 L442.5,62.4 L442.5,60.7 L443.0,60.7 L443.0,55.0 L443.5,55.0 L443.5,66.4 L444.0,66.4 L444.0,75.3 L444.5,75.3 L444.5,85.7 L445.0,85.7 L445.0,85.3 L445.5,85.3 L445.5,90.8 L446.0,90.8 L446.0,74.9 L446.5,74.9 L446.5,94.2 L447.0,94.2 L447.0,100.4 L447.5,100.4 L447.5,81.6 L448.0,81.6 L448.0,84.4 L448.5,84.4 L448.5,92.9 L449.0,92.9 L449.0,88.6 L449.5,88.6 L449.5,96.9 L450.0,96.9 L450.0,96.8 L450.5,96.8 L450.5,93.3 L451.0,93.3 L451.0,94.9 L451.5,94.9 L451.5,99.5 L452.0,99.5 L452.0,92.9 L452.5,92.9 L452.5,97.6 L453.0,97.6 L453.0,101.0 L453.5,101.0 L453.5,106.7 L454.0,106.7 L454.0,103.6 L454.5,103.6 L454.5,106.2 L455.0,106.2 L455.0,106.8 L455.5,106.8 L455.5,105.6 L456.0,105.6 L456.0,110.6 L456.5,110.6 L456.5,109.8 L457.0,109.8 L457.0,110.0 L457.5,110.0 L457.5,112.3 L458.0,112.3 L458.0,110.7 L458.5,110.7 L458.5,117.4 L459.0,117.4 L459.0,116.9 L459.5,116.9 L459.3,117.4" fill="none" stroke="#555" stroke-width="0.6" stroke-dasharray="1.1 0.8"/>
<clipPath id="clc"><path d="M403.0,117.4 L403.0,109.9 L403.5,109.9 L403.5,101.1 L404.0,101.1 L404.0,111.3 L404.5,111.3 L404.5,115.1 L405.0,115.1 L405.0,112.9 L405.5,112.9 L405.5,109.9 L406.0,109.9 L406.0,111.9 L406.5,111.9 L406.5,114.5 L407.0,114.5 L407.0,113.1 L407.5,113.1 L407.5,110.6 L408.0,110.6 L408.0,107.1 L408.5,107.1 L408.5,108.4 L409.0,108.4 L409.0,108.4 L409.5,108.4 L409.5,107.0 L410.0,107.0 L410.0,104.7 L410.5,104.7 L410.5,106.4 L411.0,106.4 L411.0,102.9 L411.5,102.9 L411.5,100.9 L412.0,100.9 L412.0,94.8 L412.5,94.8 L412.5,99.7 L413.0,99.7 L413.0,94.7 L413.5,94.7 L413.5,101.3 L414.0,101.3 L414.0,84.0 L414.5,84.0 L414.5,94.3 L415.0,94.3 L415.0,95.9 L415.5,95.9 L415.5,92.4 L416.0,92.4 L416.0,86.8 L416.5,86.8 L416.5,91.0 L417.0,91.0 L417.0,62.0 L417.5,62.0 L417.5,77.9 L418.0,77.9 L418.0,74.8 L418.5,74.8 L418.5,72.3 L419.0,72.3 L419.0,60.0 L419.5,60.0 L419.5,73.7 L420.0,73.7 L420.0,76.7 L420.5,76.7 L420.5,64.0 L421.0,64.0 L421.0,52.0 L421.5,52.0 L421.5,62.9 L422.0,62.9 L422.0,59.9 L422.5,59.9 L422.5,65.3 L423.0,65.3 L423.0,59.3 L423.5,59.3 L423.5,63.3 L424.0,63.3 L424.0,42.8 L424.5,42.8 L424.5,58.6 L425.0,58.6 L425.0,47.0 L425.5,47.0 L425.5,65.5 L426.0,65.5 L426.0,62.5 L426.5,62.5 L426.5,56.9 L427.0,56.9 L427.0,38.5 L427.5,38.5 L427.5,43.2 L428.0,43.2 L428.0,45.8 L428.5,45.8 L428.5,51.6 L429.0,51.6 L429.0,32.1 L429.5,32.1 L429.5,35.5 L430.0,35.5 L430.0,50.7 L430.5,50.7 L430.5,40.1 L431.0,40.1 L431.0,50.7 L431.5,50.7 L431.5,37.0 L432.0,37.0 L432.0,35.6 L432.5,35.6 L432.5,43.7 L433.0,43.7 L433.0,40.4 L433.5,40.4 L433.5,35.6 L434.0,35.6 L434.0,49.2 L434.5,49.2 L434.5,68.4 L435.0,68.4 L435.0,54.2 L435.5,54.2 L435.5,45.7 L436.0,45.7 L436.0,58.3 L436.5,58.3 L436.5,50.8 L437.0,50.8 L437.0,39.0 L437.5,39.0 L437.5,37.8 L438.0,37.8 L438.0,58.5 L438.5,58.5 L438.5,53.5 L439.0,53.5 L439.0,49.1 L439.5,49.1 L439.5,48.1 L440.0,48.1 L440.0,41.0 L440.5,41.0 L440.5,41.4 L441.0,41.4 L441.0,62.2 L441.5,62.2 L441.5,51.5 L442.0,51.5 L442.0,62.4 L442.5,62.4 L442.5,60.7 L443.0,60.7 L443.0,55.0 L443.5,55.0 L443.5,66.4 L444.0,66.4 L444.0,75.3 L444.5,75.3 L444.5,85.7 L445.0,85.7 L445.0,85.3 L445.5,85.3 L445.5,90.8 L446.0,90.8 L446.0,74.9 L446.5,74.9 L446.5,94.2 L447.0,94.2 L447.0,100.4 L447.5,100.4 L447.5,81.6 L448.0,81.6 L448.0,84.4 L448.5,84.4 L448.5,92.9 L449.0,92.9 L449.0,88.6 L449.5,88.6 L449.5,96.9 L450.0,96.9 L450.0,96.8 L450.5,96.8 L450.5,93.3 L451.0,93.3 L451.0,94.9 L451.5,94.9 L451.5,99.5 L452.0,99.5 L452.0,92.9 L452.5,92.9 L452.5,97.6 L453.0,97.6 L453.0,101.0 L453.5,101.0 L453.5,106.7 L454.0,106.7 L454.0,103.6 L454.5,103.6 L454.5,106.2 L455.0,106.2 L455.0,106.8 L455.5,106.8 L455.5,105.6 L456.0,105.6 L456.0,110.6 L456.5,110.6 L456.5,109.8 L457.0,109.8 L457.0,110.0 L457.5,110.0 L457.5,112.3 L458.0,112.3 L458.0,110.7 L458.5,110.7 L458.5,117.4 L459.0,117.4 L459.0,116.9 L459.5,116.9 L459.3,117.4 L459.3,117.4 L403.0,117.4 Z"/></clipPath><g clip-path="url(#clc)">
<line x1="403.0" y1="34.0" x2="403.0" y2="74.6" stroke="#777" stroke-width="0.6" stroke-dasharray="0.8 1.0"/>
<line x1="405.3" y1="34.0" x2="405.3" y2="78.9" stroke="#777" stroke-width="0.6" stroke-dasharray="0.8 1.0"/>
<line x1="407.9" y1="34.0" x2="407.9" y2="77.5" stroke="#777" stroke-width="0.6" stroke-dasharray="0.8 1.0"/>
<line x1="410.4" y1="34.0" x2="410.4" y2="59.7" stroke="#777" stroke-width="0.6" stroke-dasharray="0.8 1.0"/>
<line x1="412.5" y1="34.0" x2="412.5" y2="82.6" stroke="#777" stroke-width="0.6" stroke-dasharray="0.8 1.0"/>
<line x1="414.7" y1="34.0" x2="414.7" y2="81.5" stroke="#777" stroke-width="0.6" stroke-dasharray="0.8 1.0"/>
<line x1="416.4" y1="34.0" x2="416.4" y2="70.7" stroke="#777" stroke-width="0.6" stroke-dasharray="0.8 1.0"/>
<line x1="418.3" y1="34.0" x2="418.3" y2="72.6" stroke="#777" stroke-width="0.6" stroke-dasharray="0.8 1.0"/>
<line x1="420.5" y1="34.0" x2="420.5" y2="59.3" stroke="#777" stroke-width="0.6" stroke-dasharray="0.8 1.0"/>
<line x1="422.3" y1="34.0" x2="422.3" y2="66.0" stroke="#777" stroke-width="0.6" stroke-dasharray="0.8 1.0"/>
<line x1="424.8" y1="34.0" x2="424.8" y2="78.1" stroke="#777" stroke-width="0.6" stroke-dasharray="0.8 1.0"/>
<line x1="426.5" y1="34.0" x2="426.5" y2="78.9" stroke="#777" stroke-width="0.6" stroke-dasharray="0.8 1.0"/>
<line x1="428.3" y1="34.0" x2="428.3" y2="74.4" stroke="#777" stroke-width="0.6" stroke-dasharray="0.8 1.0"/>
<line x1="430.0" y1="34.0" x2="430.0" y2="59.0" stroke="#777" stroke-width="0.6" stroke-dasharray="0.8 1.0"/>
<line x1="432.5" y1="34.0" x2="432.5" y2="64.2" stroke="#777" stroke-width="0.6" stroke-dasharray="0.8 1.0"/>
<line x1="434.3" y1="34.0" x2="434.3" y2="83.6" stroke="#777" stroke-width="0.6" stroke-dasharray="0.8 1.0"/>
<line x1="436.8" y1="34.0" x2="436.8" y2="66.2" stroke="#777" stroke-width="0.6" stroke-dasharray="0.8 1.0"/>
<line x1="439.3" y1="34.0" x2="439.3" y2="72.5" stroke="#777" stroke-width="0.6" stroke-dasharray="0.8 1.0"/>
<line x1="441.6" y1="34.0" x2="441.6" y2="64.1" stroke="#777" stroke-width="0.6" stroke-dasharray="0.8 1.0"/>
<line x1="444.2" y1="34.0" x2="444.2" y2="76.3" stroke="#777" stroke-width="0.6" stroke-dasharray="0.8 1.0"/>
<line x1="446.7" y1="34.0" x2="446.7" y2="81.3" stroke="#777" stroke-width="0.6" stroke-dasharray="0.8 1.0"/>
<line x1="448.6" y1="34.0" x2="448.6" y2="68.0" stroke="#777" stroke-width="0.6" stroke-dasharray="0.8 1.0"/>
<line x1="450.4" y1="34.0" x2="450.4" y2="62.6" stroke="#777" stroke-width="0.6" stroke-dasharray="0.8 1.0"/>
<line x1="452.0" y1="34.0" x2="452.0" y2="66.5" stroke="#777" stroke-width="0.6" stroke-dasharray="0.8 1.0"/>
<line x1="454.3" y1="34.0" x2="454.3" y2="59.1" stroke="#777" stroke-width="0.6" stroke-dasharray="0.8 1.0"/>
<line x1="456.5" y1="34.0" x2="456.5" y2="67.4" stroke="#777" stroke-width="0.6" stroke-dasharray="0.8 1.0"/>
<line x1="458.4" y1="34.0" x2="458.4" y2="79.5" stroke="#777" stroke-width="0.6" stroke-dasharray="0.8 1.0"/>
</g>
<path d="M412.0,117.4 L412.0,116.7 L412.5,116.7 L412.5,116.9 L413.0,116.9 L413.0,114.3 L413.5,114.3 L413.5,116.2 L414.0,116.2 L414.0,116.3 L414.5,116.3 L414.5,115.9 L415.0,115.9 L415.0,116.7 L415.5,116.7 L415.5,116.7 L416.0,116.7 L416.0,115.4 L416.5,115.4 L416.5,116.2 L417.0,116.2 L417.0,114.6 L417.5,114.6 L417.5,115.6 L418.0,115.6 L418.0,117.4 L418.5,117.4 L418.5,116.7 L419.0,116.7 L419.0,115.9 L419.5,115.9 L419.5,117.4 L420.0,117.4 L420.0,114.4 L420.5,114.4 L420.5,114.4 L421.0,114.4 L421.0,112.1 L421.5,112.1 L421.5,114.7 L422.0,114.7 L422.0,113.3 L422.5,113.3 L422.5,111.5 L423.0,111.5 L423.0,110.8 L423.5,110.8 L423.5,113.8 L424.0,113.8 L424.0,108.4 L424.5,108.4 L424.5,112.3 L425.0,112.3 L425.0,107.9 L425.5,107.9 L425.5,110.7 L426.0,110.7 L426.0,110.6 L426.5,110.6 L426.5,112.1 L427.0,112.1 L427.0,109.0 L427.5,109.0 L427.5,102.2 L428.0,102.2 L428.0,109.4 L428.5,109.4 L428.5,103.2 L429.0,103.2 L429.0,103.2 L429.5,103.2 L429.5,107.3 L430.0,107.3 L430.0,102.6 L430.5,102.6 L430.5,101.2 L431.0,101.2 L431.0,105.6 L431.5,105.6 L431.5,105.8 L432.0,105.8 L432.0,100.3 L432.5,100.3 L432.5,102.1 L433.0,102.1 L433.0,96.0 L433.5,96.0 L433.5,100.8 L434.0,100.8 L434.0,105.5 L434.5,105.5 L434.5,101.5 L435.0,101.5 L435.0,104.9 L435.5,104.9 L435.5,97.9 L436.0,97.9 L436.0,97.6 L436.5,97.6 L436.5,101.0 L437.0,101.0 L437.0,102.3 L437.5,102.3 L437.5,95.5 L438.0,95.5 L438.0,99.7 L438.5,99.7 L438.5,93.5 L439.0,93.5 L439.0,101.2 L439.5,101.2 L439.5,98.3 L440.0,98.3 L440.0,98.9 L440.5,98.9 L440.5,100.5 L441.0,100.5 L441.0,85.8 L441.5,85.8 L441.5,89.3 L442.0,89.3 L442.0,97.8 L442.5,97.8 L442.5,91.4 L443.0,91.4 L443.0,101.0 L443.5,101.0 L443.5,87.7 L444.0,87.7 L444.0,87.4 L444.5,87.4 L444.5,92.6 L445.0,92.6 L445.0,91.8 L445.5,91.8 L445.5,88.3 L446.0,88.3 L446.0,86.6 L446.5,86.6 L446.5,89.5 L447.0,89.5 L447.0,91.0 L447.5,91.0 L447.5,87.6 L448.0,87.6 L448.0,87.7 L448.5,87.7 L448.5,81.2 L449.0,81.2 L449.0,83.7 L449.5,83.7 L449.5,82.3 L450.0,82.3 L450.0,90.8 L450.5,90.8 L450.5,84.0 L451.0,84.0 L451.0,83.5 L451.5,83.5 L451.5,83.6 L452.0,83.6 L452.0,81.0 L452.5,81.0 L452.5,81.4 L453.0,81.4 L453.0,87.1 L453.5,87.1 L453.5,73.9 L454.0,73.9 L454.0,73.5 L454.5,73.5 L454.5,80.5 L455.0,80.5 L455.0,74.1 L455.5,74.1 L455.5,81.8 L456.0,81.8 L456.0,83.1 L456.5,83.1 L456.5,77.1 L457.0,77.1 L457.0,66.0 L457.5,66.0 L457.5,75.7 L458.0,75.7 L458.0,82.6 L458.5,82.6 L458.5,71.7 L459.0,71.7 L459.0,75.0 L459.5,75.0 L459.5,61.0 L460.0,61.0 L460.0,67.3 L460.5,67.3 L460.5,78.5 L461.0,78.5 L461.0,77.9 L461.5,77.9 L461.5,75.0 L462.0,75.0 L462.0,54.4 L462.5,54.4 L462.5,66.4 L463.0,66.4 L463.0,71.2 L463.5,71.2 L463.5,72.4 L464.0,72.4 L464.0,65.1 L464.5,65.1 L464.5,61.8 L465.0,61.8 L465.0,73.3 L465.5,73.3 L465.5,67.7 L466.0,67.7 L466.0,63.5 L466.5,63.5 L466.5,66.6 L467.0,66.6 L467.0,72.4 L467.5,72.4 L467.5,69.1 L468.0,69.1 L468.0,70.9 L468.5,70.9 L468.5,68.3 L469.0,68.3 L469.0,70.5 L469.5,70.5 L469.5,75.7 L470.0,75.7 L470.0,74.2 L470.5,74.2 L470.5,72.2 L471.0,72.2 L471.0,78.6 L471.5,78.6 L471.5,75.1 L472.0,75.1 L472.0,81.0 L472.5,81.0 L472.5,70.3 L473.0,70.3 L473.0,69.4 L473.5,69.4 L473.5,82.7 L474.0,82.7 L474.0,74.5 L474.5,74.5 L474.5,79.1 L475.0,79.1 L475.0,80.7 L475.5,80.7 L475.5,83.5 L476.0,83.5 L476.0,82.2 L476.5,82.2 L476.5,79.8 L477.0,79.8 L477.0,91.4 L477.5,91.4 L477.5,82.3 L478.0,82.3 L478.0,89.2 L478.5,89.2 L478.5,94.0 L479.0,94.0 L479.0,90.9 L479.5,90.9 L479.5,90.0 L480.0,90.0 L480.0,94.8 L480.5,94.8 L480.5,95.2 L481.0,95.2 L481.0,99.5 L481.5,99.5 L481.5,102.0 L482.0,102.0 L482.0,98.8 L482.5,98.8 L482.5,106.6 L483.0,106.6 L483.0,102.2 L483.5,102.2 L483.5,105.4 L484.0,105.4 L484.0,108.4 L484.5,108.4 L484.5,109.5 L485.0,109.5 L485.0,110.9 L485.5,110.9 L485.5,111.7 L486.0,111.7 L486.0,113.0 L486.5,113.0 L486.5,114.1 L487.0,114.1 L487.0,117.3 L487.5,117.3 L487.5,117.4 L488.0,117.4 L488.0,115.6 L488.5,115.6 L488.5,116.6 L489.0,116.6 L489.0,116.6 L489.5,116.6 L489.5,116.3 L490.0,116.3 L490.0,117.2 L490.5,117.2 L490.5,114.9 L491.0,114.9 L491.0,116.3 L491.5,116.3 L491.5,116.5 L492.0,116.5 L492.0,117.2 L492.5,117.2 L492.5,115.7 L493.0,115.7 L493.0,115.9 L493.5,115.9 L493.5,115.4 L494.0,115.4 L494.0,115.9 L494.5,115.9 L494.5,117.2 L495.0,117.2 L495.0,117.4 L495.5,117.4 L495.5,115.7 L496.0,115.7 L496.0,117.1 L496.5,117.1 L496.5,116.7 L497.0,116.7 L497.0,116.8 L497.5,116.8 L497.5,116.3 L498.0,116.3 L498.0,116.3 L498.5,116.3 L498.5,117.4 L499.0,117.4 L499.0,117.1 L499.5,117.1 L499.5,117.4 L500.0,117.4 L500.0,116.3 L500.5,116.3 L500.5,116.8 L501.0,116.8 L501.0,117.4 L501.5,117.4 L501.5,116.0 L502.0,116.0 L502.0,116.7 L502.5,116.7 L502.5,117.4 L503.0,117.4 L503.0,117.0 L503.5,117.0 L503.5,117.1 L504.0,117.1 L504.0,116.7 L504.5,116.7 L504.5,116.6 L505.0,116.6 L505.0,117.1 L505.5,117.1 L505.5,116.5 L506.0,116.5 L506.0,117.4 L506.5,117.4 L506.5,117.0 L507.0,117.0 L507.0,116.3 L507.5,116.3 L507.5,116.1 L508.0,116.1 L508.0,116.2 L508.5,116.2 L508.5,117.4 L509.0,117.4 L509.0,117.4 L509.5,117.4 L509.5,117.0 L510.0,117.0 L510.0,115.4 L510.5,115.4 L510.5,116.7 L511.0,116.7 L511.0,117.3 L511.5,117.3 L511.5,117.4 L512.0,117.4 L512.0,116.8 L512.5,116.8 L512.5,117.2 L513.0,117.2 L513.0,117.4 L513.0,117.4 L412.0,117.4 Z" fill="#555"/>
<g clip-path="url(#cdc)"><path d="M403.0,117.4 L403.0,109.9 L403.5,109.9 L403.5,101.1 L404.0,101.1 L404.0,111.3 L404.5,111.3 L404.5,115.1 L405.0,115.1 L405.0,112.9 L405.5,112.9 L405.5,109.9 L406.0,109.9 L406.0,111.9 L406.5,111.9 L406.5,114.5 L407.0,114.5 L407.0,113.1 L407.5,113.1 L407.5,110.6 L408.0,110.6 L408.0,107.1 L408.5,107.1 L408.5,108.4 L409.0,108.4 L409.0,108.4 L409.5,108.4 L409.5,107.0 L410.0,107.0 L410.0,104.7 L410.5,104.7 L410.5,106.4 L411.0,106.4 L411.0,102.9 L411.5,102.9 L411.5,100.9 L412.0,100.9 L412.0,94.8 L412.5,94.8 L412.5,99.7 L413.0,99.7 L413.0,94.7 L413.5,94.7 L413.5,101.3 L414.0,101.3 L414.0,84.0 L414.5,84.0 L414.5,94.3 L415.0,94.3 L415.0,95.9 L415.5,95.9 L415.5,92.4 L416.0,92.4 L416.0,86.8 L416.5,86.8 L416.5,91.0 L417.0,91.0 L417.0,62.0 L417.5,62.0 L417.5,77.9 L418.0,77.9 L418.0,74.8 L418.5,74.8 L418.5,72.3 L419.0,72.3 L419.0,60.0 L419.5,60.0 L419.5,73.7 L420.0,73.7 L420.0,76.7 L420.5,76.7 L420.5,64.0 L421.0,64.0 L421.0,52.0 L421.5,52.0 L421.5,62.9 L422.0,62.9 L422.0,59.9 L422.5,59.9 L422.5,65.3 L423.0,65.3 L423.0,59.3 L423.5,59.3 L423.5,63.3 L424.0,63.3 L424.0,42.8 L424.5,42.8 L424.5,58.6 L425.0,58.6 L425.0,47.0 L425.5,47.0 L425.5,65.5 L426.0,65.5 L426.0,62.5 L426.5,62.5 L426.5,56.9 L427.0,56.9 L427.0,38.5 L427.5,38.5 L427.5,43.2 L428.0,43.2 L428.0,45.8 L428.5,45.8 L428.5,51.6 L429.0,51.6 L429.0,32.1 L429.5,32.1 L429.5,35.5 L430.0,35.5 L430.0,50.7 L430.5,50.7 L430.5,40.1 L431.0,40.1 L431.0,50.7 L431.5,50.7 L431.5,37.0 L432.0,37.0 L432.0,35.6 L432.5,35.6 L432.5,43.7 L433.0,43.7 L433.0,40.4 L433.5,40.4 L433.5,35.6 L434.0,35.6 L434.0,49.2 L434.5,49.2 L434.5,68.4 L435.0,68.4 L435.0,54.2 L435.5,54.2 L435.5,45.7 L436.0,45.7 L436.0,58.3 L436.5,58.3 L436.5,50.8 L437.0,50.8 L437.0,39.0 L437.5,39.0 L437.5,37.8 L438.0,37.8 L438.0,58.5 L438.5,58.5 L438.5,53.5 L439.0,53.5 L439.0,49.1 L439.5,49.1 L439.5,48.1 L440.0,48.1 L440.0,41.0 L440.5,41.0 L440.5,41.4 L441.0,41.4 L441.0,62.2 L441.5,62.2 L441.5,51.5 L442.0,51.5 L442.0,62.4 L442.5,62.4 L442.5,60.7 L443.0,60.7 L443.0,55.0 L443.5,55.0 L443.5,66.4 L444.0,66.4 L444.0,75.3 L444.5,75.3 L444.5,85.7 L445.0,85.7 L445.0,85.3 L445.5,85.3 L445.5,90.8 L446.0,90.8 L446.0,74.9 L446.5,74.9 L446.5,94.2 L447.0,94.2 L447.0,100.4 L447.5,100.4 L447.5,81.6 L448.0,81.6 L448.0,84.4 L448.5,84.4 L448.5,92.9 L449.0,92.9 L449.0,88.6 L449.5,88.6 L449.5,96.9 L450.0,96.9 L450.0,96.8 L450.5,96.8 L450.5,93.3 L451.0,93.3 L451.0,94.9 L451.5,94.9 L451.5,99.5 L452.0,99.5 L452.0,92.9 L452.5,92.9 L452.5,97.6 L453.0,97.6 L453.0,101.0 L453.5,101.0 L453.5,106.7 L454.0,106.7 L454.0,103.6 L454.5,103.6 L454.5,106.2 L455.0,106.2 L455.0,106.8 L455.5,106.8 L455.5,105.6 L456.0,105.6 L456.0,110.6 L456.5,110.6 L456.5,109.8 L457.0,109.8 L457.0,110.0 L457.5,110.0 L457.5,112.3 L458.0,112.3 L458.0,110.7 L458.5,110.7 L458.5,117.4 L459.0,117.4 L459.0,116.9 L459.5,116.9 L459.3,117.4 L459.3,117.4 L403.0,117.4 Z" fill="#ffffff" fill-opacity="0.12"/></g>
<path d="M412.0,117.4 L412.0,116.7 L412.5,116.7 L412.5,116.9 L413.0,116.9 L413.0,114.3 L413.5,114.3 L413.5,116.2 L414.0,116.2 L414.0,116.3 L414.5,116.3 L414.5,115.9 L415.0,115.9 L415.0,116.7 L415.5,116.7 L415.5,116.7 L416.0,116.7 L416.0,115.4 L416.5,115.4 L416.5,116.2 L417.0,116.2 L417.0,114.6 L417.5,114.6 L417.5,115.6 L418.0,115.6 L418.0,117.4 L418.5,117.4 L418.5,116.7 L419.0,116.7 L419.0,115.9 L419.5,115.9 L419.5,117.4 L420.0,117.4 L420.0,114.4 L420.5,114.4 L420.5,114.4 L421.0,114.4 L421.0,112.1 L421.5,112.1 L421.5,114.7 L422.0,114.7 L422.0,113.3 L422.5,113.3 L422.5,111.5 L423.0,111.5 L423.0,110.8 L423.5,110.8 L423.5,113.8 L424.0,113.8 L424.0,108.4 L424.5,108.4 L424.5,112.3 L425.0,112.3 L425.0,107.9 L425.5,107.9 L425.5,110.7 L426.0,110.7 L426.0,110.6 L426.5,110.6 L426.5,112.1 L427.0,112.1 L427.0,109.0 L427.5,109.0 L427.5,102.2 L428.0,102.2 L428.0,109.4 L428.5,109.4 L428.5,103.2 L429.0,103.2 L429.0,103.2 L429.5,103.2 L429.5,107.3 L430.0,107.3 L430.0,102.6 L430.5,102.6 L430.5,101.2 L431.0,101.2 L431.0,105.6 L431.5,105.6 L431.5,105.8 L432.0,105.8 L432.0,100.3 L432.5,100.3 L432.5,102.1 L433.0,102.1 L433.0,96.0 L433.5,96.0 L433.5,100.8 L434.0,100.8 L434.0,105.5 L434.5,105.5 L434.5,101.5 L435.0,101.5 L435.0,104.9 L435.5,104.9 L435.5,97.9 L436.0,97.9 L436.0,97.6 L436.5,97.6 L436.5,101.0 L437.0,101.0 L437.0,102.3 L437.5,102.3 L437.5,95.5 L438.0,95.5 L438.0,99.7 L438.5,99.7 L438.5,93.5 L439.0,93.5 L439.0,101.2 L439.5,101.2 L439.5,98.3 L440.0,98.3 L440.0,98.9 L440.5,98.9 L440.5,100.5 L441.0,100.5 L441.0,85.8 L441.5,85.8 L441.5,89.3 L442.0,89.3 L442.0,97.8 L442.5,97.8 L442.5,91.4 L443.0,91.4 L443.0,101.0 L443.5,101.0 L443.5,87.7 L444.0,87.7 L444.0,87.4 L444.5,87.4 L444.5,92.6 L445.0,92.6 L445.0,91.8 L445.5,91.8 L445.5,88.3 L446.0,88.3 L446.0,86.6 L446.5,86.6 L446.5,89.5 L447.0,89.5 L447.0,91.0 L447.5,91.0 L447.5,87.6 L448.0,87.6 L448.0,87.7 L448.5,87.7 L448.5,81.2 L449.0,81.2 L449.0,83.7 L449.5,83.7 L449.5,82.3 L450.0,82.3 L450.0,90.8 L450.5,90.8 L450.5,84.0 L451.0,84.0 L451.0,83.5 L451.5,83.5 L451.5,83.6 L452.0,83.6 L452.0,81.0 L452.5,81.0 L452.5,81.4 L453.0,81.4 L453.0,87.1 L453.5,87.1 L453.5,73.9 L454.0,73.9 L454.0,73.5 L454.5,73.5 L454.5,80.5 L455.0,80.5 L455.0,74.1 L455.5,74.1 L455.5,81.8 L456.0,81.8 L456.0,83.1 L456.5,83.1 L456.5,77.1 L457.0,77.1 L457.0,66.0 L457.5,66.0 L457.5,75.7 L458.0,75.7 L458.0,82.6 L458.5,82.6 L458.5,71.7 L459.0,71.7 L459.0,75.0 L459.5,75.0 L459.5,61.0 L460.0,61.0 L460.0,67.3 L460.5,67.3 L460.5,78.5 L461.0,78.5 L461.0,77.9 L461.5,77.9 L461.5,75.0 L462.0,75.0 L462.0,54.4 L462.5,54.4 L462.5,66.4 L463.0,66.4 L463.0,71.2 L463.5,71.2 L463.5,72.4 L464.0,72.4 L464.0,65.1 L464.5,65.1 L464.5,61.8 L465.0,61.8 L465.0,73.3 L465.5,73.3 L465.5,67.7 L466.0,67.7 L466.0,63.5 L466.5,63.5 L466.5,66.6 L467.0,66.6 L467.0,72.4 L467.5,72.4 L467.5,69.1 L468.0,69.1 L468.0,70.9 L468.5,70.9 L468.5,68.3 L469.0,68.3 L469.0,70.5 L469.5,70.5 L469.5,75.7 L470.0,75.7 L470.0,74.2 L470.5,74.2 L470.5,72.2 L471.0,72.2 L471.0,78.6 L471.5,78.6 L471.5,75.1 L472.0,75.1 L472.0,81.0 L472.5,81.0 L472.5,70.3 L473.0,70.3 L473.0,69.4 L473.5,69.4 L473.5,82.7 L474.0,82.7 L474.0,74.5 L474.5,74.5 L474.5,79.1 L475.0,79.1 L475.0,80.7 L475.5,80.7 L475.5,83.5 L476.0,83.5 L476.0,82.2 L476.5,82.2 L476.5,79.8 L477.0,79.8 L477.0,91.4 L477.5,91.4 L477.5,82.3 L478.0,82.3 L478.0,89.2 L478.5,89.2 L478.5,94.0 L479.0,94.0 L479.0,90.9 L479.5,90.9 L479.5,90.0 L480.0,90.0 L480.0,94.8 L480.5,94.8 L480.5,95.2 L481.0,95.2 L481.0,99.5 L481.5,99.5 L481.5,102.0 L482.0,102.0 L482.0,98.8 L482.5,98.8 L482.5,106.6 L483.0,106.6 L483.0,102.2 L483.5,102.2 L483.5,105.4 L484.0,105.4 L484.0,108.4 L484.5,108.4 L484.5,109.5 L485.0,109.5 L485.0,110.9 L485.5,110.9 L485.5,111.7 L486.0,111.7 L486.0,113.0 L486.5,113.0 L486.5,114.1 L487.0,114.1 L487.0,117.3 L487.5,117.3 L487.5,117.4 L488.0,117.4 L488.0,115.6 L488.5,115.6 L488.5,116.6 L489.0,116.6 L489.0,116.6 L489.5,116.6 L489.5,116.3 L490.0,116.3 L490.0,117.2 L490.5,117.2 L490.5,114.9 L491.0,114.9 L491.0,116.3 L491.5,116.3 L491.5,116.5 L492.0,116.5 L492.0,117.2 L492.5,117.2 L492.5,115.7 L493.0,115.7 L493.0,115.9 L493.5,115.9 L493.5,115.4 L494.0,115.4 L494.0,115.9 L494.5,115.9 L494.5,117.2 L495.0,117.2 L495.0,117.4 L495.5,117.4 L495.5,115.7 L496.0,115.7 L496.0,117.1 L496.5,117.1 L496.5,116.7 L497.0,116.7 L497.0,116.8 L497.5,116.8 L497.5,116.3 L498.0,116.3 L498.0,116.3 L498.5,116.3 L498.5,117.4 L499.0,117.4 L499.0,117.1 L499.5,117.1 L499.5,117.4 L500.0,117.4 L500.0,116.3 L500.5,116.3 L500.5,116.8 L501.0,116.8 L501.0,117.4 L501.5,117.4 L501.5,116.0 L502.0,116.0 L502.0,116.7 L502.5,116.7 L502.5,117.4 L503.0,117.4 L503.0,117.0 L503.5,117.0 L503.5,117.1 L504.0,117.1 L504.0,116.7 L504.5,116.7 L504.5,116.6 L505.0,116.6 L505.0,117.1 L505.5,117.1 L505.5,116.5 L506.0,116.5 L506.0,117.4 L506.5,117.4 L506.5,117.0 L507.0,117.0 L507.0,116.3 L507.5,116.3 L507.5,116.1 L508.0,116.1 L508.0,116.2 L508.5,116.2 L508.5,117.4 L509.0,117.4 L509.0,117.4 L509.5,117.4 L509.5,117.0 L510.0,117.0 L510.0,115.4 L510.5,115.4 L510.5,116.7 L511.0,116.7 L511.0,117.3 L511.5,117.3 L511.5,117.4 L512.0,117.4 L512.0,116.8 L512.5,116.8 L512.5,117.2 L513.0,117.2 L513.0,117.4" fill="none" stroke="#000" stroke-width="1.1" stroke-linejoin="round"/>
</g>
<rect x="402.9" y="34.0" width="110.60000000000002" height="83.4" fill="none" stroke="#000" stroke-width="1.15"/>
<line x1="399.30" y1="117.40" x2="402.90" y2="117.40" stroke="#000" stroke-width="0.9"/>
<text transform="translate(396.00,120.20) scale(0.9200,1)" x="-4.78" y="0" font-size="8.6" fill="#151515" stroke="#151515" stroke-width="0.12">0</text>
<line x1="399.30" y1="106.31" x2="402.90" y2="106.31" stroke="#000" stroke-width="0.9"/>
<text transform="translate(396.00,109.11) scale(0.9200,1)" x="-9.56" y="0" font-size="8.6" fill="#151515" stroke="#151515" stroke-width="0.12">10</text>
<line x1="399.30" y1="95.23" x2="402.90" y2="95.23" stroke="#000" stroke-width="0.9"/>
<text transform="translate(396.00,98.03) scale(0.9200,1)" x="-9.56" y="0" font-size="8.6" fill="#151515" stroke="#151515" stroke-width="0.12">20</text>
<line x1="399.30" y1="84.14" x2="402.90" y2="84.14" stroke="#000" stroke-width="0.9"/>
<text transform="translate(396.00,86.94) scale(0.9200,1)" x="-9.56" y="0" font-size="8.6" fill="#151515" stroke="#151515" stroke-width="0.12">30</text>
<line x1="399.30" y1="73.06" x2="402.90" y2="73.06" stroke="#000" stroke-width="0.9"/>
<text transform="translate(396.00,75.86) scale(0.9200,1)" x="-9.56" y="0" font-size="8.6" fill="#151515" stroke="#151515" stroke-width="0.12">40</text>
<line x1="399.30" y1="61.97" x2="402.90" y2="61.97" stroke="#000" stroke-width="0.9"/>
<text transform="translate(396.00,64.77) scale(0.9200,1)" x="-9.56" y="0" font-size="8.6" fill="#151515" stroke="#151515" stroke-width="0.12">50</text>
<line x1="399.30" y1="50.88" x2="402.90" y2="50.88" stroke="#000" stroke-width="0.9"/>
<text transform="translate(396.00,53.68) scale(0.9200,1)" x="-9.56" y="0" font-size="8.6" fill="#151515" stroke="#151515" stroke-width="0.12">60</text>
<line x1="399.30" y1="39.80" x2="402.90" y2="39.80" stroke="#000" stroke-width="0.9"/>
<text transform="translate(396.00,42.60) scale(0.9200,1)" x="-9.56" y="0" font-size="8.6" fill="#151515" stroke="#151515" stroke-width="0.12">70</text>
<line x1="401.40" y1="117.40" x2="402.90" y2="117.40" stroke="#000" stroke-width="0.7"/>
<line x1="401.40" y1="115.18" x2="402.90" y2="115.18" stroke="#000" stroke-width="0.7"/>
<line x1="401.40" y1="112.97" x2="402.90" y2="112.97" stroke="#000" stroke-width="0.7"/>
<line x1="401.40" y1="110.75" x2="402.90" y2="110.75" stroke="#000" stroke-width="0.7"/>
<line x1="401.40" y1="108.53" x2="402.90" y2="108.53" stroke="#000" stroke-width="0.7"/>
<line x1="401.40" y1="106.31" x2="402.90" y2="106.31" stroke="#000" stroke-width="0.7"/>
<line x1="401.40" y1="104.10" x2="402.90" y2="104.10" stroke="#000" stroke-width="0.7"/>
<line x1="401.40" y1="101.88" x2="402.90" y2="101.88" stroke="#000" stroke-width="0.7"/>
<line x1="401.40" y1="99.66" x2="402.90" y2="99.66" stroke="#000" stroke-width="0.7"/>
<line x1="401.40" y1="97.45" x2="402.90" y2="97.45" stroke="#000" stroke-width="0.7"/>
<line x1="401.40" y1="95.23" x2="402.90" y2="95.23" stroke="#000" stroke-width="0.7"/>
<line x1="401.40" y1="93.01" x2="402.90" y2="93.01" stroke="#000" stroke-width="0.7"/>
<line x1="401.40" y1="90.79" x2="402.90" y2="90.79" stroke="#000" stroke-width="0.7"/>
<line x1="401.40" y1="88.58" x2="402.90" y2="88.58" stroke="#000" stroke-width="0.7"/>
<line x1="401.40" y1="86.36" x2="402.90" y2="86.36" stroke="#000" stroke-width="0.7"/>
<line x1="401.40" y1="84.14" x2="402.90" y2="84.14" stroke="#000" stroke-width="0.7"/>
<line x1="401.40" y1="81.92" x2="402.90" y2="81.92" stroke="#000" stroke-width="0.7"/>
<line x1="401.40" y1="79.71" x2="402.90" y2="79.71" stroke="#000" stroke-width="0.7"/>
<line x1="401.40" y1="77.49" x2="402.90" y2="77.49" stroke="#000" stroke-width="0.7"/>
<line x1="401.40" y1="75.27" x2="402.90" y2="75.27" stroke="#000" stroke-width="0.7"/>
<line x1="401.40" y1="73.06" x2="402.90" y2="73.06" stroke="#000" stroke-width="0.7"/>
<line x1="401.40" y1="70.84" x2="402.90" y2="70.84" stroke="#000" stroke-width="0.7"/>
<line x1="401.40" y1="68.62" x2="402.90" y2="68.62" stroke="#000" stroke-width="0.7"/>
<line x1="401.40" y1="66.40" x2="402.90" y2="66.40" stroke="#000" stroke-width="0.7"/>
<line x1="401.40" y1="64.19" x2="402.90" y2="64.19" stroke="#000" stroke-width="0.7"/>
<line x1="401.40" y1="61.97" x2="402.90" y2="61.97" stroke="#000" stroke-width="0.7"/>
<line x1="401.40" y1="59.75" x2="402.90" y2="59.75" stroke="#000" stroke-width="0.7"/>
<line x1="401.40" y1="57.54" x2="402.90" y2="57.54" stroke="#000" stroke-width="0.7"/>
<line x1="401.40" y1="55.32" x2="402.90" y2="55.32" stroke="#000" stroke-width="0.7"/>
<line x1="401.40" y1="53.10" x2="402.90" y2="53.10" stroke="#000" stroke-width="0.7"/>
<line x1="401.40" y1="50.88" x2="402.90" y2="50.88" stroke="#000" stroke-width="0.7"/>
<line x1="401.40" y1="48.67" x2="402.90" y2="48.67" stroke="#000" stroke-width="0.7"/>
<line x1="401.40" y1="46.45" x2="402.90" y2="46.45" stroke="#000" stroke-width="0.7"/>
<line x1="401.40" y1="44.23" x2="402.90" y2="44.23" stroke="#000" stroke-width="0.7"/>
<line x1="401.40" y1="42.02" x2="402.90" y2="42.02" stroke="#000" stroke-width="0.7"/>
<line x1="401.40" y1="39.80" x2="402.90" y2="39.80" stroke="#000" stroke-width="0.7"/>
<line x1="401.40" y1="37.58" x2="402.90" y2="37.58" stroke="#000" stroke-width="0.7"/>
<line x1="401.40" y1="35.36" x2="402.90" y2="35.36" stroke="#000" stroke-width="0.7"/>
<line x1="418.40" y1="117.40" x2="418.40" y2="120.60" stroke="#000" stroke-width="0.9"/>
<text transform="translate(413.10,131.60) scale(0.8712,1)" x="0.00" y="0" font-size="8.6" fill="#151515" stroke="#151515" stroke-width="0.12">10<tspan dy="-3.3" font-size="6.3">2</tspan><tspan dy="3.3"></tspan></text>
<line x1="446.15" y1="117.40" x2="446.15" y2="120.60" stroke="#000" stroke-width="0.9"/>
<text transform="translate(440.85,131.60) scale(0.8712,1)" x="0.00" y="0" font-size="8.6" fill="#151515" stroke="#151515" stroke-width="0.12">10<tspan dy="-3.3" font-size="6.3">3</tspan><tspan dy="3.3"></tspan></text>
<line x1="473.90" y1="117.40" x2="473.90" y2="120.60" stroke="#000" stroke-width="0.9"/>
<text transform="translate(468.60,131.60) scale(0.8712,1)" x="0.00" y="0" font-size="8.6" fill="#151515" stroke="#151515" stroke-width="0.12">10<tspan dy="-3.3" font-size="6.3">4</tspan><tspan dy="3.3"></tspan></text>
<line x1="501.65" y1="117.40" x2="501.65" y2="120.60" stroke="#000" stroke-width="0.9"/>
<text transform="translate(496.35,131.60) scale(0.8712,1)" x="0.00" y="0" font-size="8.6" fill="#151515" stroke="#151515" stroke-width="0.12">10<tspan dy="-3.3" font-size="6.3">5</tspan><tspan dy="3.3"></tspan></text>
<line x1="407.36" y1="117.40" x2="407.36" y2="119.00" stroke="#000" stroke-width="0.55"/>
<line x1="410.05" y1="117.40" x2="410.05" y2="119.00" stroke="#000" stroke-width="0.55"/>
<line x1="412.24" y1="117.40" x2="412.24" y2="119.00" stroke="#000" stroke-width="0.55"/>
<line x1="414.10" y1="117.40" x2="414.10" y2="119.00" stroke="#000" stroke-width="0.55"/>
<line x1="415.71" y1="117.40" x2="415.71" y2="119.00" stroke="#000" stroke-width="0.55"/>
<line x1="417.13" y1="117.40" x2="417.13" y2="119.00" stroke="#000" stroke-width="0.55"/>
<line x1="426.75" y1="117.40" x2="426.75" y2="119.00" stroke="#000" stroke-width="0.55"/>
<line x1="431.64" y1="117.40" x2="431.64" y2="119.00" stroke="#000" stroke-width="0.55"/>
<line x1="435.11" y1="117.40" x2="435.11" y2="119.00" stroke="#000" stroke-width="0.55"/>
<line x1="437.80" y1="117.40" x2="437.80" y2="119.00" stroke="#000" stroke-width="0.55"/>
<line x1="439.99" y1="117.40" x2="439.99" y2="119.00" stroke="#000" stroke-width="0.55"/>
<line x1="441.85" y1="117.40" x2="441.85" y2="119.00" stroke="#000" stroke-width="0.55"/>
<line x1="443.46" y1="117.40" x2="443.46" y2="119.00" stroke="#000" stroke-width="0.55"/>
<line x1="444.88" y1="117.40" x2="444.88" y2="119.00" stroke="#000" stroke-width="0.55"/>
<line x1="454.50" y1="117.40" x2="454.50" y2="119.00" stroke="#000" stroke-width="0.55"/>
<line x1="459.39" y1="117.40" x2="459.39" y2="119.00" stroke="#000" stroke-width="0.55"/>
<line x1="462.86" y1="117.40" x2="462.86" y2="119.00" stroke="#000" stroke-width="0.55"/>
<line x1="465.55" y1="117.40" x2="465.55" y2="119.00" stroke="#000" stroke-width="0.55"/>
<line x1="467.74" y1="117.40" x2="467.74" y2="119.00" stroke="#000" stroke-width="0.55"/>
<line x1="469.60" y1="117.40" x2="469.60" y2="119.00" stroke="#000" stroke-width="0.55"/>
<line x1="471.21" y1="117.40" x2="471.21" y2="119.00" stroke="#000" stroke-width="0.55"/>
<line x1="472.63" y1="117.40" x2="472.63" y2="119.00" stroke="#000" stroke-width="0.55"/>
<line x1="482.25" y1="117.40" x2="482.25" y2="119.00" stroke="#000" stroke-width="0.55"/>
<line x1="487.14" y1="117.40" x2="487.14" y2="119.00" stroke="#000" stroke-width="0.55"/>
<line x1="490.61" y1="117.40" x2="490.61" y2="119.00" stroke="#000" stroke-width="0.55"/>
<line x1="493.30" y1="117.40" x2="493.30" y2="119.00" stroke="#000" stroke-width="0.55"/>
<line x1="495.49" y1="117.40" x2="495.49" y2="119.00" stroke="#000" stroke-width="0.55"/>
<line x1="497.35" y1="117.40" x2="497.35" y2="119.00" stroke="#000" stroke-width="0.55"/>
<line x1="498.96" y1="117.40" x2="498.96" y2="119.00" stroke="#000" stroke-width="0.55"/>
<line x1="500.38" y1="117.40" x2="500.38" y2="119.00" stroke="#000" stroke-width="0.55"/>
<line x1="510.00" y1="117.40" x2="510.00" y2="119.00" stroke="#000" stroke-width="0.55"/>
<text transform="translate(458.00,27.80) scale(1.0141,1)" x="-21.69" y="0" font-size="9.8" font-weight="bold" fill="#000">CLL cells</text>
<rect x="303.10" y="137.10" width="11.20" height="8.40" fill="#555"/>
<text transform="translate(317.20,144.00) scale(0.9467,1)" x="0.00" y="0" font-size="8.8" fill="#151515" stroke="#151515" stroke-width="0.12">anti-FcμR scFv-Fc</text>
<rect x="394.90" y="137.10" width="10.90" height="8.40" fill="#a2a2a2"/>
<text transform="translate(408.80,144.00) scale(0.9583,1)" x="0.00" y="0" font-size="8.8" fill="#151515" stroke="#151515" stroke-width="0.12">anti-CEA scFv-Fc</text>
<text transform="translate(7.50,196.90) scale(0.9569,1)" x="0.00" y="0" font-size="12.3" font-weight="bold" fill="#000">C</text>
<line x1="46.35" y1="223.40" x2="46.35" y2="315.90" stroke="#000" stroke-width="1.2"/>
<line x1="45.85" y1="315.30" x2="170.60" y2="315.30" stroke="#000" stroke-width="1.3"/>
<line x1="42.75" y1="315.30" x2="46.35" y2="315.30" stroke="#000" stroke-width="1.0"/>
<text transform="translate(39.65,318.05) scale(0.9400,1)" x="-4.89" y="0" font-size="8.8" fill="#151515" stroke="#151515" stroke-width="0.12">0</text>
<line x1="42.75" y1="285.80" x2="46.35" y2="285.80" stroke="#000" stroke-width="1.0"/>
<text transform="translate(39.65,288.55) scale(0.9298,1)" x="-19.57" y="0" font-size="8.8" fill="#151515" stroke="#151515" stroke-width="0.12">2000</text>
<line x1="42.75" y1="256.30" x2="46.35" y2="256.30" stroke="#000" stroke-width="1.0"/>
<text transform="translate(39.65,259.05) scale(0.9298,1)" x="-19.57" y="0" font-size="8.8" fill="#151515" stroke="#151515" stroke-width="0.12">4000</text>
<line x1="42.75" y1="226.80" x2="46.35" y2="226.80" stroke="#000" stroke-width="1.0"/>
<text transform="translate(39.65,229.55) scale(0.9298,1)" x="-19.57" y="0" font-size="8.8" fill="#151515" stroke="#151515" stroke-width="0.12">6000</text>
<text transform="translate(15.90,269.00) rotate(-90) scale(0.8276,1)" x="-11.84" y="0" font-size="10.4" fill="#151515" stroke="#151515" stroke-width="0.12">M F I</text>
<text transform="translate(86.20,211.00) scale(1.0348,1)" x="0.00" y="0" font-size="9.8" font-weight="bold" fill="#000">CLL cells</text>
<rect x="61.20" y="297.20" width="31.10" height="18.10" fill="#000"/>
<line x1="76.75" y1="293.70" x2="76.75" y2="297.20" stroke="#000" stroke-width="1.0"/>
<line x1="69.25" y1="293.70" x2="84.25" y2="293.70" stroke="#000" stroke-width="1.0"/>
<line x1="76.75" y1="315.30" x2="76.75" y2="318.90" stroke="#000" stroke-width="1.0"/>
<rect x="121.70" y="259.20" width="31.40" height="56.10" fill="#000"/>
<line x1="137.40" y1="232.80" x2="137.40" y2="259.20" stroke="#000" stroke-width="1.0"/>
<line x1="129.90" y1="232.80" x2="144.90" y2="232.80" stroke="#000" stroke-width="1.0"/>
<line x1="137.40" y1="315.30" x2="137.40" y2="318.90" stroke="#000" stroke-width="1.0"/>
<text transform="translate(53.80,328.90) scale(0.9451,1)" x="0.00" y="0" font-size="8.9" fill="#151515" stroke="#151515" stroke-width="0.12">anti-CEA-Fc</text>
<text transform="translate(113.10,328.90) scale(0.9418,1)" x="0.00" y="0" font-size="8.9" fill="#151515" stroke="#151515" stroke-width="0.12">anti-FcμR-Fc</text>
<path d="M76.6,229.1 V225.9 H138.3 V229.1" fill="none" stroke="#000" stroke-width="1.0"/>
<text transform="translate(107.60,224.30) scale(1.1700,1)" x="-3.11" y="0" font-size="8.0" fill="#151515" stroke="#151515" stroke-width="0.4">**</text>
<line x1="214.80" y1="222.10" x2="214.80" y2="315.80" stroke="#000" stroke-width="1.2"/>
<line x1="214.30" y1="315.20" x2="340.50" y2="315.20" stroke="#000" stroke-width="1.3"/>
<line x1="211.20" y1="315.20" x2="214.80" y2="315.20" stroke="#000" stroke-width="1.0"/>
<text transform="translate(208.10,317.95) scale(0.9400,1)" x="-4.89" y="0" font-size="8.8" fill="#151515" stroke="#151515" stroke-width="0.12">0</text>
<line x1="211.20" y1="285.30" x2="214.80" y2="285.30" stroke="#000" stroke-width="1.0"/>
<text transform="translate(208.10,288.05) scale(0.9298,1)" x="-19.57" y="0" font-size="8.8" fill="#151515" stroke="#151515" stroke-width="0.12">2000</text>
<line x1="211.20" y1="255.40" x2="214.80" y2="255.40" stroke="#000" stroke-width="1.0"/>
<text transform="translate(208.10,258.15) scale(0.9298,1)" x="-19.57" y="0" font-size="8.8" fill="#151515" stroke="#151515" stroke-width="0.12">4000</text>
<line x1="211.20" y1="225.50" x2="214.80" y2="225.50" stroke="#000" stroke-width="1.0"/>
<text transform="translate(208.10,228.25) scale(0.9298,1)" x="-19.57" y="0" font-size="8.8" fill="#151515" stroke="#151515" stroke-width="0.12">6000</text>
<text transform="translate(184.30,269.00) rotate(-90) scale(0.8276,1)" x="-11.84" y="0" font-size="10.4" fill="#151515" stroke="#151515" stroke-width="0.12">M F I</text>
<text transform="translate(244.20,211.00) scale(1.0256,1)" x="0.00" y="0" font-size="9.8" font-weight="bold" fill="#000">CD19<tspan dy="-3.3" font-size="7.0">+</tspan><tspan dy="3.3"> B cells</tspan></text>
<rect x="230.10" y="289.20" width="30.70" height="26.00" fill="#000"/>
<line x1="245.45" y1="278.50" x2="245.45" y2="289.20" stroke="#000" stroke-width="1.0"/>
<line x1="237.95" y1="278.50" x2="252.95" y2="278.50" stroke="#000" stroke-width="1.0"/>
<line x1="245.45" y1="315.20" x2="245.45" y2="318.80" stroke="#000" stroke-width="1.0"/>
<rect x="291.50" y="294.90" width="30.90" height="20.30" fill="#000"/>
<line x1="306.95" y1="290.10" x2="306.95" y2="294.90" stroke="#000" stroke-width="1.0"/>
<line x1="299.45" y1="290.10" x2="314.45" y2="290.10" stroke="#000" stroke-width="1.0"/>
<line x1="306.95" y1="315.20" x2="306.95" y2="318.80" stroke="#000" stroke-width="1.0"/>
<text transform="translate(222.60,328.90) scale(0.9451,1)" x="0.00" y="0" font-size="8.9" fill="#151515" stroke="#151515" stroke-width="0.12">anti-CEA-Fc</text>
<text transform="translate(282.80,328.90) scale(0.9418,1)" x="0.00" y="0" font-size="8.9" fill="#151515" stroke="#151515" stroke-width="0.12">anti-FcμR-Fc</text>
<path d="M245.3,269.09999999999997 V265.9 H307.4 V269.09999999999997" fill="none" stroke="#000" stroke-width="1.0"/>
<text transform="translate(276.30,262.20) scale(1.0000,1)" x="-4.22" y="0" font-size="8.0" fill="#151515" stroke="#151515" stroke-width="0.12">ns</text>
<line x1="386.10" y1="222.20" x2="386.10" y2="315.90" stroke="#000" stroke-width="1.2"/>
<line x1="385.60" y1="315.30" x2="512.00" y2="315.30" stroke="#000" stroke-width="1.3"/>
<line x1="382.50" y1="315.30" x2="386.10" y2="315.30" stroke="#000" stroke-width="1.0"/>
<text transform="translate(379.40,318.05) scale(0.9400,1)" x="-4.89" y="0" font-size="8.8" fill="#151515" stroke="#151515" stroke-width="0.12">0</text>
<line x1="382.50" y1="285.40" x2="386.10" y2="285.40" stroke="#000" stroke-width="1.0"/>
<text transform="translate(379.40,288.15) scale(0.9298,1)" x="-19.57" y="0" font-size="8.8" fill="#151515" stroke="#151515" stroke-width="0.12">2000</text>
<line x1="382.50" y1="255.50" x2="386.10" y2="255.50" stroke="#000" stroke-width="1.0"/>
<text transform="translate(379.40,258.25) scale(0.9298,1)" x="-19.57" y="0" font-size="8.8" fill="#151515" stroke="#151515" stroke-width="0.12">4000</text>
<line x1="382.50" y1="225.60" x2="386.10" y2="225.60" stroke="#000" stroke-width="1.0"/>
<text transform="translate(379.40,228.35) scale(0.9298,1)" x="-19.57" y="0" font-size="8.8" fill="#151515" stroke="#151515" stroke-width="0.12">6000</text>
<text transform="translate(356.00,269.00) rotate(-90) scale(0.8276,1)" x="-11.84" y="0" font-size="10.4" fill="#151515" stroke="#151515" stroke-width="0.12">M F I</text>
<text transform="translate(419.20,211.00) scale(1.0310,1)" x="0.00" y="0" font-size="9.8" font-weight="bold" fill="#000">CD3<tspan dy="-3.3" font-size="7.0">+</tspan><tspan dy="3.3"> T cells</tspan></text>
<rect x="401.80" y="313.70" width="31.40" height="1.60" fill="#000"/>
<rect x="411.00" y="313.20" width="13.00" height="0.70" fill="#000"/>
<line x1="417.50" y1="315.30" x2="417.50" y2="318.90" stroke="#000" stroke-width="1.0"/>
<rect x="463.70" y="312.60" width="31.40" height="2.70" fill="#000"/>
<rect x="472.90" y="311.50" width="13.00" height="1.30" fill="#000"/>
<line x1="479.40" y1="315.30" x2="479.40" y2="318.90" stroke="#000" stroke-width="1.0"/>
<text transform="translate(394.80,328.90) scale(0.9409,1)" x="0.00" y="0" font-size="8.9" fill="#151515" stroke="#151515" stroke-width="0.12">anti-CEA-Fc</text>
<text transform="translate(455.30,328.90) scale(0.9457,1)" x="0.00" y="0" font-size="8.9" fill="#151515" stroke="#151515" stroke-width="0.12">anti-FcμR-Fc</text>
<path d="M417.0,299.5 V296.3 H479.8 V299.5" fill="none" stroke="#000" stroke-width="1.0"/>
<text transform="translate(449.00,292.10) scale(1.0000,1)" x="-4.22" y="0" font-size="8.0" fill="#151515" stroke="#151515" stroke-width="0.12">ns</text>
</svg>
</body></html>
